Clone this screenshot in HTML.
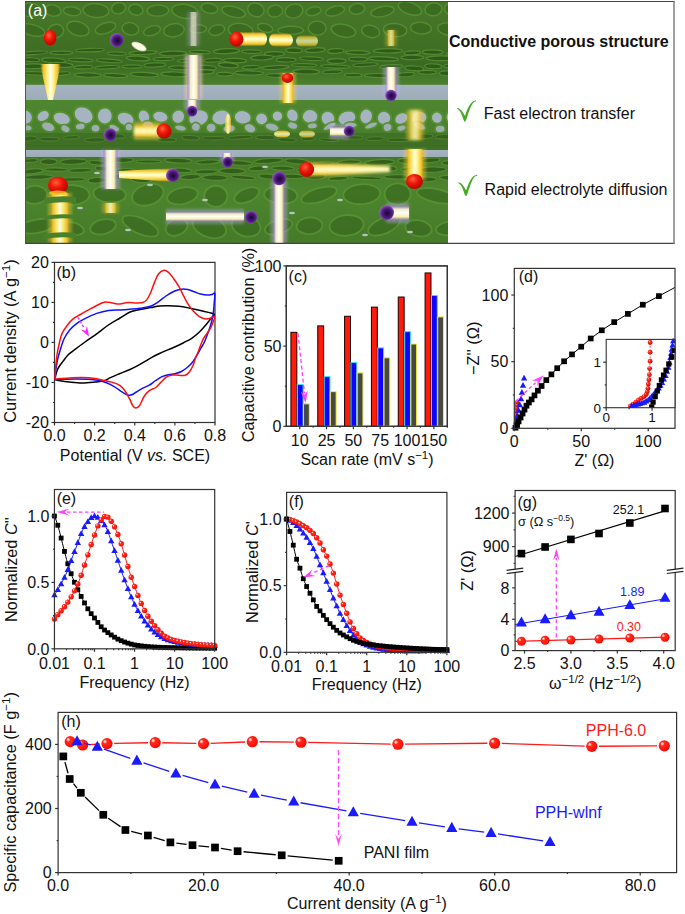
<!DOCTYPE html>
<html><head><meta charset="utf-8"><style>
html,body{margin:0;padding:0;background:#fff;}
body{width:685px;height:914px;overflow:hidden;}
svg{display:block;font-family:"Liberation Sans", sans-serif;}
</style></head><body>
<svg width="685" height="914" viewBox="0 0 685 914">
<defs>
<radialGradient id="rb" cx="0.4" cy="0.4" r="0.62" fx="0.3" fy="0.3">
<stop offset="0" stop-color="#fff4f4"/><stop offset="0.12" stop-color="#ffc8c4"/><stop offset="0.3" stop-color="#ff2a1e"/>
<stop offset="0.8" stop-color="#ff1408"/><stop offset="1" stop-color="#e80800"/></radialGradient>
<radialGradient id="rbs" cx="0.4" cy="0.35" r="0.65" fx="0.35" fy="0.3">
<stop offset="0" stop-color="#ffb0a8"/><stop offset="0.3" stop-color="#ff3020"/>
<stop offset="1" stop-color="#d80000"/></radialGradient>
</defs>
<defs>
<clipPath id="aclip"><rect x="25.5" y="1" width="422.5" height="242"/></clipPath>
<linearGradient id="gband" x1="0" y1="0" x2="0" y2="1">
<stop offset="0" stop-color="#a6b3c0"/><stop offset="0.5" stop-color="#a2b0bd"/><stop offset="1" stop-color="#9cabb8"/></linearGradient>
<linearGradient id="topg" x1="0" y1="0" x2="0" y2="1">
<stop offset="0" stop-color="#47782a"/><stop offset="0.55" stop-color="#3f6f24"/><stop offset="0.75" stop-color="#3a6a22"/><stop offset="1" stop-color="#4d822d"/></linearGradient>
<linearGradient id="midg" x1="0" y1="0" x2="0" y2="1">
<stop offset="0" stop-color="#4f8630"/><stop offset="0.6" stop-color="#4a7f2c"/><stop offset="1" stop-color="#3f7025"/></linearGradient>
<linearGradient id="botg" x1="0" y1="0" x2="0" y2="1">
<stop offset="0" stop-color="#447627"/><stop offset="0.4" stop-color="#4d852e"/><stop offset="1" stop-color="#457a28"/></linearGradient>
<linearGradient id="yv" x1="0" y1="0" x2="1" y2="0">
<stop offset="0" stop-color="#ff9000" stop-opacity="0"/><stop offset="0.15" stop-color="#ffc830" stop-opacity="0.9"/>
<stop offset="0.35" stop-color="#fff080"/><stop offset="0.5" stop-color="#ffffe8"/><stop offset="0.65" stop-color="#fff080"/>
<stop offset="0.85" stop-color="#ffc830" stop-opacity="0.9"/><stop offset="1" stop-color="#ff9000" stop-opacity="0"/></linearGradient>
<linearGradient id="yh" x1="0" y1="0" x2="0" y2="1">
<stop offset="0" stop-color="#ff9000" stop-opacity="0"/><stop offset="0.15" stop-color="#ffc830" stop-opacity="0.9"/>
<stop offset="0.35" stop-color="#fff080"/><stop offset="0.5" stop-color="#ffffe8"/><stop offset="0.65" stop-color="#fff080"/>
<stop offset="0.85" stop-color="#ffc830" stop-opacity="0.9"/><stop offset="1" stop-color="#ff9000" stop-opacity="0"/></linearGradient>
<linearGradient id="wv" x1="0" y1="0" x2="1" y2="0">
<stop offset="0" stop-color="#8060c0" stop-opacity="0.2"/><stop offset="0.25" stop-color="#f0e8d0"/>
<stop offset="0.5" stop-color="#fffff0"/><stop offset="0.75" stop-color="#f8ecb0"/><stop offset="1" stop-color="#8060c0" stop-opacity="0.2"/></linearGradient>
<linearGradient id="wh" x1="0" y1="0" x2="0" y2="1">
<stop offset="0" stop-color="#8060c0" stop-opacity="0.2"/><stop offset="0.25" stop-color="#f0e8d0"/>
<stop offset="0.5" stop-color="#fffff0"/><stop offset="0.75" stop-color="#f8ecb0"/><stop offset="1" stop-color="#8060c0" stop-opacity="0.2"/></linearGradient>
<radialGradient id="pur" cx="0.55" cy="0.55" r="0.55">
<stop offset="0" stop-color="#1a0638"/><stop offset="0.55" stop-color="#4a1878"/><stop offset="0.85" stop-color="#7a40b0"/><stop offset="1" stop-color="#9a70c8" stop-opacity="0.6"/></radialGradient>
<radialGradient id="red3" cx="0.4" cy="0.35" r="0.6">
<stop offset="0" stop-color="#ff6040"/><stop offset="0.5" stop-color="#f01808"/><stop offset="1" stop-color="#c00800"/></radialGradient>
<filter id="bl1" x="-50%" y="-50%" width="200%" height="200%"><feGaussianBlur stdDeviation="0.55"/></filter>
<filter id="bl2" x="-50%" y="-50%" width="200%" height="200%"><feGaussianBlur stdDeviation="1.6"/></filter>
</defs>
<g clip-path="url(#aclip)">
<rect x="25.5" y="1" width="422.5" height="85" fill="url(#topg)"/>
<rect x="25.5" y="84.8" width="422.5" height="15.4" fill="url(#gband)"/>
<rect x="25.5" y="100" width="422.5" height="50" fill="url(#midg)"/>
<rect x="25.5" y="150" width="422.5" height="7" fill="url(#gband)"/>
<rect x="25.5" y="157" width="422.5" height="87" fill="url(#botg)"/>
<ellipse cx="29.98" cy="9.86" rx="10.36" ry="6.77" fill="#3a6820" stroke="#5a9634" stroke-width="1.4" opacity="0.75" transform="rotate(0.31 29.98 9.86)"/>
<ellipse cx="52.79" cy="10.52" rx="8.11" ry="5.54" fill="#3a6820" stroke="#5a9634" stroke-width="1.4" opacity="0.75" transform="rotate(11.72 52.79 10.52)"/>
<ellipse cx="72.1" cy="11.24" rx="8.82" ry="4.27" fill="#3a6820" stroke="#5a9634" stroke-width="1.4" opacity="0.75" transform="rotate(7.74 72.1 11.24)"/>
<ellipse cx="95.98" cy="10.62" rx="12.89" ry="6.89" fill="#3a6820" stroke="#5a9634" stroke-width="1.4" opacity="0.75" transform="rotate(4.62 95.98 10.62)"/>
<ellipse cx="118.59" cy="8.24" rx="7.09" ry="5.59" fill="#3a6820" stroke="#5a9634" stroke-width="1.4" opacity="0.75" transform="rotate(-12.39 118.59 8.24)"/>
<ellipse cx="135.83" cy="9.76" rx="7.18" ry="5.39" fill="#3a6820" stroke="#5a9634" stroke-width="1.4" opacity="0.75" transform="rotate(13.7 135.83 9.76)"/>
<ellipse cx="157.93" cy="10.65" rx="10.84" ry="5.5" fill="#3a6820" stroke="#5a9634" stroke-width="1.4" opacity="0.75" transform="rotate(-1.71 157.93 10.65)"/>
<ellipse cx="184.87" cy="11.36" rx="12.99" ry="6.99" fill="#3a6820" stroke="#5a9634" stroke-width="1.4" opacity="0.75" transform="rotate(8.31 184.87 11.36)"/>
<ellipse cx="209.5" cy="8.28" rx="8.38" ry="4.87" fill="#3a6820" stroke="#5a9634" stroke-width="1.4" opacity="0.75" transform="rotate(10.65 209.5 8.28)"/>
<ellipse cx="233.55" cy="11.83" rx="12.08" ry="5.16" fill="#3a6820" stroke="#5a9634" stroke-width="1.4" opacity="0.75" transform="rotate(13.89 233.55 11.83)"/>
<ellipse cx="255.89" cy="9.88" rx="8.26" ry="6.73" fill="#3a6820" stroke="#5a9634" stroke-width="1.4" opacity="0.75" transform="rotate(19.21 255.89 9.88)"/>
<ellipse cx="275.18" cy="11.11" rx="7.44" ry="5.89" fill="#3a6820" stroke="#5a9634" stroke-width="1.4" opacity="0.75" transform="rotate(-9.21 275.18 11.11)"/>
<ellipse cx="293.96" cy="11.03" rx="9" ry="6.89" fill="#3a6820" stroke="#5a9634" stroke-width="1.4" opacity="0.75" transform="rotate(-15.28 293.96 11.03)"/>
<ellipse cx="313.55" cy="11.19" rx="7.61" ry="4.18" fill="#3a6820" stroke="#5a9634" stroke-width="1.4" opacity="0.75" transform="rotate(-12.89 313.55 11.19)"/>
<ellipse cx="335.08" cy="10.93" rx="9.68" ry="4.57" fill="#3a6820" stroke="#5a9634" stroke-width="1.4" opacity="0.75" transform="rotate(-14.76 335.08 10.93)"/>
<ellipse cx="357.04" cy="8.85" rx="7.7" ry="5.26" fill="#3a6820" stroke="#5a9634" stroke-width="1.4" opacity="0.75" transform="rotate(-9.21 357.04 8.85)"/>
<ellipse cx="382.44" cy="11.54" rx="11.82" ry="4.91" fill="#3a6820" stroke="#5a9634" stroke-width="1.4" opacity="0.75" transform="rotate(-11.57 382.44 11.54)"/>
<ellipse cx="409.96" cy="8.4" rx="12.13" ry="5.93" fill="#3a6820" stroke="#5a9634" stroke-width="1.4" opacity="0.75" transform="rotate(19.57 409.96 8.4)"/>
<ellipse cx="433.49" cy="9.32" rx="8.55" ry="6.32" fill="#3a6820" stroke="#5a9634" stroke-width="1.4" opacity="0.75" transform="rotate(-8.15 433.49 9.32)"/>
<ellipse cx="451.88" cy="8.97" rx="7.54" ry="5.75" fill="#3a6820" stroke="#5a9634" stroke-width="1.4" opacity="0.75" transform="rotate(4.05 451.88 8.97)"/>
<ellipse cx="32.38" cy="30.1" rx="12.75" ry="5.45" fill="#3a6820" stroke="#5a9634" stroke-width="1.4" opacity="0.75" transform="rotate(14.66 32.38 30.1)"/>
<ellipse cx="55.79" cy="31.07" rx="7.92" ry="6.73" fill="#3a6820" stroke="#5a9634" stroke-width="1.4" opacity="0.75" transform="rotate(-10.02 55.79 31.07)"/>
<ellipse cx="77.91" cy="28.59" rx="11.44" ry="6.82" fill="#3a6820" stroke="#5a9634" stroke-width="1.4" opacity="0.75" transform="rotate(18.01 77.91 28.59)"/>
<ellipse cx="105.5" cy="28.22" rx="10.62" ry="5.26" fill="#3a6820" stroke="#5a9634" stroke-width="1.4" opacity="0.75" transform="rotate(-18.45 105.5 28.22)"/>
<ellipse cx="130.4" cy="28.83" rx="8.43" ry="6.11" fill="#3a6820" stroke="#5a9634" stroke-width="1.4" opacity="0.75" transform="rotate(12.95 130.4 28.83)"/>
<ellipse cx="151.98" cy="30.68" rx="8.76" ry="4.53" fill="#3a6820" stroke="#5a9634" stroke-width="1.4" opacity="0.75" transform="rotate(-17.25 151.98 30.68)"/>
<ellipse cx="174.01" cy="30.26" rx="10.36" ry="6.56" fill="#3a6820" stroke="#5a9634" stroke-width="1.4" opacity="0.75" transform="rotate(-8.79 174.01 30.26)"/>
<ellipse cx="198.26" cy="28.88" rx="8.22" ry="4.05" fill="#3a6820" stroke="#5a9634" stroke-width="1.4" opacity="0.75" transform="rotate(-2.17 198.26 28.88)"/>
<ellipse cx="216.78" cy="30.09" rx="8.06" ry="5.11" fill="#3a6820" stroke="#5a9634" stroke-width="1.4" opacity="0.75" transform="rotate(-14.74 216.78 30.09)"/>
<ellipse cx="240.63" cy="30.43" rx="12.35" ry="6.94" fill="#3a6820" stroke="#5a9634" stroke-width="1.4" opacity="0.75" transform="rotate(7.65 240.63 30.43)"/>
<ellipse cx="265.16" cy="27.87" rx="7.84" ry="4.11" fill="#3a6820" stroke="#5a9634" stroke-width="1.4" opacity="0.75" transform="rotate(16.41 265.16 27.87)"/>
<ellipse cx="290.58" cy="30.34" rx="12.78" ry="4.06" fill="#3a6820" stroke="#5a9634" stroke-width="1.4" opacity="0.75" transform="rotate(-0.71 290.58 30.34)"/>
<ellipse cx="317.19" cy="28.1" rx="8.91" ry="7" fill="#3a6820" stroke="#5a9634" stroke-width="1.4" opacity="0.75" transform="rotate(1.84 317.19 28.1)"/>
<ellipse cx="343.46" cy="30.61" rx="12.4" ry="6.21" fill="#3a6820" stroke="#5a9634" stroke-width="1.4" opacity="0.75" transform="rotate(11.73 343.46 30.61)"/>
<ellipse cx="370.63" cy="31.4" rx="9.11" ry="6.06" fill="#3a6820" stroke="#5a9634" stroke-width="1.4" opacity="0.75" transform="rotate(14.84 370.63 31.4)"/>
<ellipse cx="395.15" cy="30.09" rx="11.74" ry="6.59" fill="#3a6820" stroke="#5a9634" stroke-width="1.4" opacity="0.75" transform="rotate(5 395.15 30.09)"/>
<ellipse cx="420.92" cy="28.12" rx="10.5" ry="5.83" fill="#3a6820" stroke="#5a9634" stroke-width="1.4" opacity="0.75" transform="rotate(5.58 420.92 28.12)"/>
<ellipse cx="449.67" cy="29.35" rx="12.28" ry="6.18" fill="#3a6820" stroke="#5a9634" stroke-width="1.4" opacity="0.75" transform="rotate(9.4 449.67 29.35)"/>
<ellipse cx="33.39" cy="53" rx="13.87" ry="1.58" fill="#2f5718" stroke="#568f33" stroke-width="1.2" opacity="0.85" transform="rotate(-3.76 33.39 53)"/>
<ellipse cx="61.43" cy="52.79" rx="11.37" ry="1.73" fill="#2f5718" stroke="#568f33" stroke-width="1.2" opacity="0.85" transform="rotate(-0.02 61.43 52.79)"/>
<ellipse cx="90.09" cy="50.05" rx="14.44" ry="1.76" fill="#2f5718" stroke="#568f33" stroke-width="1.2" opacity="0.85" transform="rotate(-1.59 90.09 50.05)"/>
<ellipse cx="116.98" cy="53.62" rx="9.42" ry="1.67" fill="#2f5718" stroke="#568f33" stroke-width="1.2" opacity="0.85" transform="rotate(1.28 116.98 53.62)"/>
<ellipse cx="142.97" cy="52.66" rx="14.24" ry="1.83" fill="#2f5718" stroke="#568f33" stroke-width="1.2" opacity="0.85" transform="rotate(-2.41 142.97 52.66)"/>
<ellipse cx="173.14" cy="53.52" rx="13.64" ry="2.41" fill="#2f5718" stroke="#568f33" stroke-width="1.2" opacity="0.85" transform="rotate(-0.92 173.14 53.52)"/>
<ellipse cx="199.75" cy="51.99" rx="10.22" ry="1.64" fill="#2f5718" stroke="#568f33" stroke-width="1.2" opacity="0.85" transform="rotate(2.7 199.75 51.99)"/>
<ellipse cx="226.49" cy="51.11" rx="12.98" ry="2.45" fill="#2f5718" stroke="#568f33" stroke-width="1.2" opacity="0.85" transform="rotate(-2.65 226.49 51.11)"/>
<ellipse cx="251.75" cy="51.66" rx="9.93" ry="1.71" fill="#2f5718" stroke="#568f33" stroke-width="1.2" opacity="0.85" transform="rotate(1.01 251.75 51.66)"/>
<ellipse cx="274.36" cy="53.93" rx="10.21" ry="2.34" fill="#2f5718" stroke="#568f33" stroke-width="1.2" opacity="0.85" transform="rotate(-0.38 274.36 53.93)"/>
<ellipse cx="294.01" cy="50.17" rx="8.22" ry="2.37" fill="#2f5718" stroke="#568f33" stroke-width="1.2" opacity="0.85" transform="rotate(1.67 294.01 50.17)"/>
<ellipse cx="315.11" cy="50.08" rx="10.16" ry="2.29" fill="#2f5718" stroke="#568f33" stroke-width="1.2" opacity="0.85" transform="rotate(-2.91 315.11 50.08)"/>
<ellipse cx="335.81" cy="50.95" rx="8.17" ry="2.33" fill="#2f5718" stroke="#568f33" stroke-width="1.2" opacity="0.85" transform="rotate(-2.87 335.81 50.95)"/>
<ellipse cx="357.53" cy="52.52" rx="12.4" ry="1.95" fill="#2f5718" stroke="#568f33" stroke-width="1.2" opacity="0.85" transform="rotate(1.24 357.53 52.52)"/>
<ellipse cx="388.06" cy="50.8" rx="14.71" ry="2.18" fill="#2f5718" stroke="#568f33" stroke-width="1.2" opacity="0.85" transform="rotate(-0.2 388.06 50.8)"/>
<ellipse cx="412.39" cy="52.86" rx="8.08" ry="1.97" fill="#2f5718" stroke="#568f33" stroke-width="1.2" opacity="0.85" transform="rotate(-2.57 412.39 52.86)"/>
<ellipse cx="432.7" cy="52.08" rx="10.42" ry="2.2" fill="#2f5718" stroke="#568f33" stroke-width="1.2" opacity="0.85" transform="rotate(0.92 432.7 52.08)"/>
<ellipse cx="457.14" cy="53.62" rx="10.75" ry="2.29" fill="#2f5718" stroke="#568f33" stroke-width="1.2" opacity="0.85" transform="rotate(-3.3 457.14 53.62)"/>
<ellipse cx="30.69" cy="59.7" rx="8.91" ry="1.95" fill="#2f5718" stroke="#568f33" stroke-width="1.2" opacity="0.85" transform="rotate(3.28 30.69 59.7)"/>
<ellipse cx="53.71" cy="60.39" rx="11.98" ry="2.38" fill="#2f5718" stroke="#568f33" stroke-width="1.2" opacity="0.85" transform="rotate(3.55 53.71 60.39)"/>
<ellipse cx="80.64" cy="60.09" rx="12.56" ry="1.7" fill="#2f5718" stroke="#568f33" stroke-width="1.2" opacity="0.85" transform="rotate(2.55 80.64 60.09)"/>
<ellipse cx="109.15" cy="60.8" rx="13.02" ry="1.71" fill="#2f5718" stroke="#568f33" stroke-width="1.2" opacity="0.85" transform="rotate(3.84 109.15 60.8)"/>
<ellipse cx="137.86" cy="58.48" rx="11.76" ry="2.29" fill="#2f5718" stroke="#568f33" stroke-width="1.2" opacity="0.85" transform="rotate(3.28 137.86 58.48)"/>
<ellipse cx="163.63" cy="58.96" rx="10.44" ry="1.58" fill="#2f5718" stroke="#568f33" stroke-width="1.2" opacity="0.85" transform="rotate(0.4 163.63 58.96)"/>
<ellipse cx="188.79" cy="60.44" rx="11.41" ry="1.53" fill="#2f5718" stroke="#568f33" stroke-width="1.2" opacity="0.85" transform="rotate(-3.49 188.79 60.44)"/>
<ellipse cx="212.81" cy="60.35" rx="9.21" ry="1.84" fill="#2f5718" stroke="#568f33" stroke-width="1.2" opacity="0.85" transform="rotate(-2.88 212.81 60.35)"/>
<ellipse cx="235.08" cy="60.56" rx="11.62" ry="2.22" fill="#2f5718" stroke="#568f33" stroke-width="1.2" opacity="0.85" transform="rotate(1.51 235.08 60.56)"/>
<ellipse cx="261.98" cy="57.54" rx="11.45" ry="2.45" fill="#2f5718" stroke="#568f33" stroke-width="1.2" opacity="0.85" transform="rotate(-2.23 261.98 57.54)"/>
<ellipse cx="286.04" cy="59.76" rx="10.03" ry="2.23" fill="#2f5718" stroke="#568f33" stroke-width="1.2" opacity="0.85" transform="rotate(0.18 286.04 59.76)"/>
<ellipse cx="311.52" cy="58.72" rx="11.92" ry="1.81" fill="#2f5718" stroke="#568f33" stroke-width="1.2" opacity="0.85" transform="rotate(2.76 311.52 58.72)"/>
<ellipse cx="336.6" cy="61.07" rx="9.46" ry="2.35" fill="#2f5718" stroke="#568f33" stroke-width="1.2" opacity="0.85" transform="rotate(0.19 336.6 61.07)"/>
<ellipse cx="358.18" cy="59.21" rx="9.41" ry="2.04" fill="#2f5718" stroke="#568f33" stroke-width="1.2" opacity="0.85" transform="rotate(0.84 358.18 59.21)"/>
<ellipse cx="383.46" cy="58.8" rx="14.79" ry="2.02" fill="#2f5718" stroke="#568f33" stroke-width="1.2" opacity="0.85" transform="rotate(2.41 383.46 58.8)"/>
<ellipse cx="412.37" cy="57.46" rx="11.44" ry="2.19" fill="#2f5718" stroke="#568f33" stroke-width="1.2" opacity="0.85" transform="rotate(0.31 412.37 57.46)"/>
<ellipse cx="440.75" cy="58.28" rx="14.7" ry="2.42" fill="#2f5718" stroke="#568f33" stroke-width="1.2" opacity="0.85" transform="rotate(-0.21 440.75 58.28)"/>
<ellipse cx="33.18" cy="66.31" rx="13.71" ry="2.4" fill="#2f5718" stroke="#568f33" stroke-width="1.2" opacity="0.85" transform="rotate(-1.46 33.18 66.31)"/>
<ellipse cx="60.79" cy="64.92" rx="12.33" ry="2.43" fill="#2f5718" stroke="#568f33" stroke-width="1.2" opacity="0.85" transform="rotate(2.23 60.79 64.92)"/>
<ellipse cx="83.54" cy="67.15" rx="9.36" ry="1.73" fill="#2f5718" stroke="#568f33" stroke-width="1.2" opacity="0.85" transform="rotate(-1.42 83.54 67.15)"/>
<ellipse cx="107.3" cy="67.32" rx="12.34" ry="1.6" fill="#2f5718" stroke="#568f33" stroke-width="1.2" opacity="0.85" transform="rotate(-3.02 107.3 67.32)"/>
<ellipse cx="131.93" cy="66.52" rx="9.75" ry="1.7" fill="#2f5718" stroke="#568f33" stroke-width="1.2" opacity="0.85" transform="rotate(-0.51 131.93 66.52)"/>
<ellipse cx="154.7" cy="65.04" rx="10.89" ry="2.03" fill="#2f5718" stroke="#568f33" stroke-width="1.2" opacity="0.85" transform="rotate(-2.37 154.7 65.04)"/>
<ellipse cx="180.96" cy="67.81" rx="12.47" ry="2.03" fill="#2f5718" stroke="#568f33" stroke-width="1.2" opacity="0.85" transform="rotate(0.89 180.96 67.81)"/>
<ellipse cx="206.63" cy="67.64" rx="9.63" ry="2.24" fill="#2f5718" stroke="#568f33" stroke-width="1.2" opacity="0.85" transform="rotate(3.22 206.63 67.64)"/>
<ellipse cx="228.41" cy="65.27" rx="10.2" ry="2.42" fill="#2f5718" stroke="#568f33" stroke-width="1.2" opacity="0.85" transform="rotate(3.99 228.41 65.27)"/>
<ellipse cx="251.21" cy="67.31" rx="8.94" ry="1.74" fill="#2f5718" stroke="#568f33" stroke-width="1.2" opacity="0.85" transform="rotate(-1.92 251.21 67.31)"/>
<ellipse cx="275.27" cy="67.56" rx="13.83" ry="1.92" fill="#2f5718" stroke="#568f33" stroke-width="1.2" opacity="0.85" transform="rotate(-2.99 275.27 67.56)"/>
<ellipse cx="304.1" cy="65.2" rx="12.8" ry="1.52" fill="#2f5718" stroke="#568f33" stroke-width="1.2" opacity="0.85" transform="rotate(1.46 304.1 65.2)"/>
<ellipse cx="335.41" cy="66.42" rx="14.78" ry="1.62" fill="#2f5718" stroke="#568f33" stroke-width="1.2" opacity="0.85" transform="rotate(2.07 335.41 66.42)"/>
<ellipse cx="365.49" cy="64.68" rx="12.8" ry="1.69" fill="#2f5718" stroke="#568f33" stroke-width="1.2" opacity="0.85" transform="rotate(-3.15 365.49 64.68)"/>
<ellipse cx="391.27" cy="66.67" rx="11.86" ry="2.01" fill="#2f5718" stroke="#568f33" stroke-width="1.2" opacity="0.85" transform="rotate(-2.83 391.27 66.67)"/>
<ellipse cx="414.11" cy="68.36" rx="9.43" ry="2.34" fill="#2f5718" stroke="#568f33" stroke-width="1.2" opacity="0.85" transform="rotate(3.42 414.11 68.36)"/>
<ellipse cx="433.26" cy="66.25" rx="8.43" ry="2.45" fill="#2f5718" stroke="#568f33" stroke-width="1.2" opacity="0.85" transform="rotate(2.12 433.26 66.25)"/>
<ellipse cx="454.94" cy="66.12" rx="11.27" ry="2.02" fill="#2f5718" stroke="#568f33" stroke-width="1.2" opacity="0.85" transform="rotate(0.81 454.94 66.12)"/>
<ellipse cx="35.52" cy="73.42" rx="13.91" ry="1.68" fill="#2f5718" stroke="#568f33" stroke-width="1.2" opacity="0.85" transform="rotate(1.91 35.52 73.42)"/>
<ellipse cx="61.01" cy="73.65" rx="9.37" ry="1.67" fill="#2f5718" stroke="#568f33" stroke-width="1.2" opacity="0.85" transform="rotate(-3.88 61.01 73.65)"/>
<ellipse cx="87.67" cy="75.04" rx="13.61" ry="2.2" fill="#2f5718" stroke="#568f33" stroke-width="1.2" opacity="0.85" transform="rotate(1.04 87.67 75.04)"/>
<ellipse cx="115.69" cy="75.53" rx="12.2" ry="2" fill="#2f5718" stroke="#568f33" stroke-width="1.2" opacity="0.85" transform="rotate(2.44 115.69 75.53)"/>
<ellipse cx="144.04" cy="74.71" rx="14.38" ry="2.24" fill="#2f5718" stroke="#568f33" stroke-width="1.2" opacity="0.85" transform="rotate(2.52 144.04 74.71)"/>
<ellipse cx="174.91" cy="74.38" rx="14.28" ry="2.38" fill="#2f5718" stroke="#568f33" stroke-width="1.2" opacity="0.85" transform="rotate(2.14 174.91 74.38)"/>
<ellipse cx="203.32" cy="71.88" rx="10.84" ry="2.22" fill="#2f5718" stroke="#568f33" stroke-width="1.2" opacity="0.85" transform="rotate(-1.27 203.32 71.88)"/>
<ellipse cx="224.65" cy="74.15" rx="8.07" ry="1.86" fill="#2f5718" stroke="#568f33" stroke-width="1.2" opacity="0.85" transform="rotate(0.99 224.65 74.15)"/>
<ellipse cx="249.03" cy="72.95" rx="14.61" ry="2.17" fill="#2f5718" stroke="#568f33" stroke-width="1.2" opacity="0.85" transform="rotate(1.28 249.03 72.95)"/>
<ellipse cx="278.08" cy="75.6" rx="11.73" ry="1.89" fill="#2f5718" stroke="#568f33" stroke-width="1.2" opacity="0.85" transform="rotate(1.14 278.08 75.6)"/>
<ellipse cx="306.25" cy="71.69" rx="13.33" ry="2.48" fill="#2f5718" stroke="#568f33" stroke-width="1.2" opacity="0.85" transform="rotate(0.92 306.25 71.69)"/>
<ellipse cx="332.59" cy="71.8" rx="9.8" ry="1.9" fill="#2f5718" stroke="#568f33" stroke-width="1.2" opacity="0.85" transform="rotate(-2.44 332.59 71.8)"/>
<ellipse cx="353.21" cy="75.22" rx="8.69" ry="1.75" fill="#2f5718" stroke="#568f33" stroke-width="1.2" opacity="0.85" transform="rotate(0.4 353.21 75.22)"/>
<ellipse cx="379.19" cy="75.58" rx="14.77" ry="2.07" fill="#2f5718" stroke="#568f33" stroke-width="1.2" opacity="0.85" transform="rotate(1.1 379.19 75.58)"/>
<ellipse cx="405.92" cy="74.64" rx="8.53" ry="2.1" fill="#2f5718" stroke="#568f33" stroke-width="1.2" opacity="0.85" transform="rotate(-3.64 405.92 74.64)"/>
<ellipse cx="427.36" cy="72.28" rx="9.12" ry="1.97" fill="#2f5718" stroke="#568f33" stroke-width="1.2" opacity="0.85" transform="rotate(-0.04 427.36 72.28)"/>
<ellipse cx="447.73" cy="73.28" rx="8.41" ry="2.45" fill="#2f5718" stroke="#568f33" stroke-width="1.2" opacity="0.85" transform="rotate(0.21 447.73 73.28)"/>
<ellipse cx="25.85" cy="117.24" rx="6.93" ry="7.47" fill="#a6b3c0" stroke="#54902f" stroke-width="2" opacity="1" transform="rotate(-15.15 25.85 117.24)"/>
<ellipse cx="43.2" cy="115.98" rx="6.98" ry="5.54" fill="#a6b3c0" stroke="#54902f" stroke-width="2" opacity="1" transform="rotate(-32.01 43.2 115.98)"/>
<ellipse cx="61.76" cy="118.59" rx="9.27" ry="6.67" fill="#a6b3c0" stroke="#54902f" stroke-width="2" opacity="1" transform="rotate(17.39 61.76 118.59)"/>
<ellipse cx="83.58" cy="115.29" rx="10.44" ry="8.33" fill="#a6b3c0" stroke="#54902f" stroke-width="2" opacity="1" transform="rotate(28.39 83.58 115.29)"/>
<ellipse cx="104.77" cy="115.97" rx="7.89" ry="8.42" fill="#a6b3c0" stroke="#54902f" stroke-width="2" opacity="1" transform="rotate(1.64 104.77 115.97)"/>
<ellipse cx="125.65" cy="118.92" rx="9.11" ry="6.91" fill="#a6b3c0" stroke="#54902f" stroke-width="2" opacity="1" transform="rotate(22.17 125.65 118.92)"/>
<ellipse cx="144.04" cy="116.82" rx="6.08" ry="7.37" fill="#a6b3c0" stroke="#54902f" stroke-width="2" opacity="1" transform="rotate(-20.74 144.04 116.82)"/>
<ellipse cx="160.36" cy="116.77" rx="8.14" ry="5.87" fill="#a6b3c0" stroke="#54902f" stroke-width="2" opacity="1" transform="rotate(11.75 160.36 116.77)"/>
<ellipse cx="178.23" cy="116.68" rx="6.81" ry="7.25" fill="#a6b3c0" stroke="#54902f" stroke-width="2" opacity="1" transform="rotate(19.46 178.23 116.68)"/>
<ellipse cx="198.59" cy="117.94" rx="10.49" ry="8.36" fill="#a6b3c0" stroke="#54902f" stroke-width="2" opacity="1" transform="rotate(-18.31 198.59 117.94)"/>
<ellipse cx="221.27" cy="117.5" rx="9.96" ry="7.85" fill="#a6b3c0" stroke="#54902f" stroke-width="2" opacity="1" transform="rotate(-9.86 221.27 117.5)"/>
<ellipse cx="242.7" cy="117.37" rx="8.93" ry="7.19" fill="#a6b3c0" stroke="#54902f" stroke-width="2" opacity="1" transform="rotate(9.32 242.7 117.37)"/>
<ellipse cx="261.58" cy="118.92" rx="6.45" ry="6.25" fill="#a6b3c0" stroke="#54902f" stroke-width="2" opacity="1" transform="rotate(29.1 261.58 118.92)"/>
<ellipse cx="277.48" cy="116.08" rx="5.7" ry="5.68" fill="#a6b3c0" stroke="#54902f" stroke-width="2" opacity="1" transform="rotate(-5.24 277.48 116.08)"/>
<ellipse cx="292.44" cy="115.29" rx="6.01" ry="7.12" fill="#a6b3c0" stroke="#54902f" stroke-width="2" opacity="1" transform="rotate(-28.95 292.44 115.29)"/>
<ellipse cx="310.06" cy="116.49" rx="8.25" ry="7.39" fill="#a6b3c0" stroke="#54902f" stroke-width="2" opacity="1" transform="rotate(-1.5 310.06 116.49)"/>
<ellipse cx="327.95" cy="118.35" rx="7.22" ry="7.73" fill="#a6b3c0" stroke="#54902f" stroke-width="2" opacity="1" transform="rotate(-29.8 327.95 118.35)"/>
<ellipse cx="346.95" cy="118.08" rx="9.55" ry="7.37" fill="#a6b3c0" stroke="#54902f" stroke-width="2" opacity="1" transform="rotate(-20.08 346.95 118.08)"/>
<ellipse cx="366.14" cy="116.48" rx="6.79" ry="7.93" fill="#a6b3c0" stroke="#54902f" stroke-width="2" opacity="1" transform="rotate(10.76 366.14 116.48)"/>
<ellipse cx="384.03" cy="117.98" rx="7.13" ry="7.15" fill="#a6b3c0" stroke="#54902f" stroke-width="2" opacity="1" transform="rotate(29.46 384.03 117.98)"/>
<ellipse cx="401.36" cy="118.5" rx="7.35" ry="5.79" fill="#a6b3c0" stroke="#54902f" stroke-width="2" opacity="1" transform="rotate(-29.5 401.36 118.5)"/>
<ellipse cx="419.2" cy="117.74" rx="8.32" ry="6.95" fill="#a6b3c0" stroke="#54902f" stroke-width="2" opacity="1" transform="rotate(-14.08 419.2 117.74)"/>
<ellipse cx="436.95" cy="117.65" rx="5.88" ry="6.14" fill="#a6b3c0" stroke="#54902f" stroke-width="2" opacity="1" transform="rotate(-29.28 436.95 117.65)"/>
<ellipse cx="454.56" cy="116.13" rx="9.12" ry="7.58" fill="#a6b3c0" stroke="#54902f" stroke-width="2" opacity="1" transform="rotate(-25 454.56 116.13)"/>
<ellipse cx="27.09" cy="127.84" rx="5.28" ry="3.23" fill="#a6b3c0" stroke="#54902f" stroke-width="1.8" opacity="0.9" transform="rotate(4.85 27.09 127.84)"/>
<ellipse cx="48.17" cy="126.75" rx="7.29" ry="4.83" fill="#a6b3c0" stroke="#54902f" stroke-width="1.8" opacity="0.9" transform="rotate(21.21 48.17 126.75)"/>
<ellipse cx="65.4" cy="128.74" rx="5.11" ry="3.8" fill="#a6b3c0" stroke="#54902f" stroke-width="1.8" opacity="0.9" transform="rotate(27.63 65.4 128.74)"/>
<ellipse cx="80.27" cy="126.45" rx="5.27" ry="3.73" fill="#a6b3c0" stroke="#54902f" stroke-width="1.8" opacity="0.9" transform="rotate(-7.31 80.27 126.45)"/>
<ellipse cx="95.54" cy="128.19" rx="4.68" ry="4.13" fill="#a6b3c0" stroke="#54902f" stroke-width="1.8" opacity="0.9" transform="rotate(2.84 95.54 128.19)"/>
<ellipse cx="114.22" cy="128.04" rx="5.97" ry="3.35" fill="#a6b3c0" stroke="#54902f" stroke-width="1.8" opacity="0.9" transform="rotate(26.66 114.22 128.04)"/>
<ellipse cx="128.95" cy="127.18" rx="4.08" ry="4.03" fill="#a6b3c0" stroke="#54902f" stroke-width="1.8" opacity="0.9" transform="rotate(4.72 128.95 127.18)"/>
<ellipse cx="148.11" cy="125.26" rx="6.28" ry="4.61" fill="#a6b3c0" stroke="#54902f" stroke-width="1.8" opacity="0.9" transform="rotate(3.28 148.11 125.26)"/>
<ellipse cx="166.41" cy="127.95" rx="4.29" ry="3.16" fill="#a6b3c0" stroke="#54902f" stroke-width="1.8" opacity="0.9" transform="rotate(27.94 166.41 127.95)"/>
<ellipse cx="180.43" cy="127.98" rx="6.22" ry="3.29" fill="#a6b3c0" stroke="#54902f" stroke-width="1.8" opacity="0.9" transform="rotate(10.43 180.43 127.98)"/>
<ellipse cx="195.89" cy="127.09" rx="4.77" ry="4.53" fill="#a6b3c0" stroke="#54902f" stroke-width="1.8" opacity="0.9" transform="rotate(18.53 195.89 127.09)"/>
<ellipse cx="211.21" cy="127.69" rx="5.18" ry="4.94" fill="#a6b3c0" stroke="#54902f" stroke-width="1.8" opacity="0.9" transform="rotate(-0.44 211.21 127.69)"/>
<ellipse cx="229.14" cy="128.66" rx="6.52" ry="4.42" fill="#a6b3c0" stroke="#54902f" stroke-width="1.8" opacity="0.9" transform="rotate(-6.26 229.14 128.66)"/>
<ellipse cx="249.96" cy="128.22" rx="6.33" ry="4.71" fill="#a6b3c0" stroke="#54902f" stroke-width="1.8" opacity="0.9" transform="rotate(23.37 249.96 128.22)"/>
<ellipse cx="271.98" cy="127.1" rx="7.35" ry="4.28" fill="#a6b3c0" stroke="#54902f" stroke-width="1.8" opacity="0.9" transform="rotate(14.71 271.98 127.1)"/>
<ellipse cx="292.62" cy="125.58" rx="5.48" ry="3.84" fill="#a6b3c0" stroke="#54902f" stroke-width="1.8" opacity="0.9" transform="rotate(16.89 292.62 125.58)"/>
<ellipse cx="312.35" cy="125.82" rx="5.31" ry="3.34" fill="#a6b3c0" stroke="#54902f" stroke-width="1.8" opacity="0.9" transform="rotate(-5.25 312.35 125.82)"/>
<ellipse cx="329.81" cy="126.23" rx="7.39" ry="3.12" fill="#a6b3c0" stroke="#54902f" stroke-width="1.8" opacity="0.9" transform="rotate(-26.96 329.81 126.23)"/>
<ellipse cx="350.81" cy="125.25" rx="6.72" ry="3.36" fill="#a6b3c0" stroke="#54902f" stroke-width="1.8" opacity="0.9" transform="rotate(-2.89 350.81 125.25)"/>
<ellipse cx="371.21" cy="125.43" rx="7.18" ry="3.07" fill="#a6b3c0" stroke="#54902f" stroke-width="1.8" opacity="0.9" transform="rotate(-22.08 371.21 125.43)"/>
<ellipse cx="387.53" cy="127.38" rx="4.82" ry="4.43" fill="#a6b3c0" stroke="#54902f" stroke-width="1.8" opacity="0.9" transform="rotate(-19.32 387.53 127.38)"/>
<ellipse cx="401.44" cy="128.03" rx="4.98" ry="3.35" fill="#a6b3c0" stroke="#54902f" stroke-width="1.8" opacity="0.9" transform="rotate(-13.18 401.44 128.03)"/>
<ellipse cx="419.58" cy="126.04" rx="6.86" ry="3.96" fill="#a6b3c0" stroke="#54902f" stroke-width="1.8" opacity="0.9" transform="rotate(27.12 419.58 126.04)"/>
<ellipse cx="440.12" cy="128.83" rx="5.2" ry="4.09" fill="#a6b3c0" stroke="#54902f" stroke-width="1.8" opacity="0.9" transform="rotate(-1.22 440.12 128.83)"/>
<ellipse cx="453.82" cy="128.21" rx="4.17" ry="4.9" fill="#a6b3c0" stroke="#54902f" stroke-width="1.8" opacity="0.9" transform="rotate(-8.05 453.82 128.21)"/>
<rect x="25.5" y="133" width="422.5" height="14" fill="#3b6a22" opacity="0.55"/>
<ellipse cx="28.77" cy="138.63" rx="8.65" ry="2.49" fill="#2f5718" stroke="#568f33" stroke-width="1" opacity="0.6" transform="rotate(-2.1 28.77 138.63)"/>
<ellipse cx="49.3" cy="139.19" rx="9.84" ry="1.87" fill="#2f5718" stroke="#568f33" stroke-width="1" opacity="0.6" transform="rotate(1.71 49.3 139.19)"/>
<ellipse cx="71.5" cy="137.29" rx="7.94" ry="1.66" fill="#2f5718" stroke="#568f33" stroke-width="1" opacity="0.6" transform="rotate(-1.92 71.5 137.29)"/>
<ellipse cx="95.02" cy="139.97" rx="10.1" ry="2.14" fill="#2f5718" stroke="#568f33" stroke-width="1" opacity="0.6" transform="rotate(-1.87 95.02 139.97)"/>
<ellipse cx="117.16" cy="136.01" rx="7.9" ry="2.27" fill="#2f5718" stroke="#568f33" stroke-width="1" opacity="0.6" transform="rotate(2.57 117.16 136.01)"/>
<ellipse cx="142.38" cy="137.08" rx="11.93" ry="1.58" fill="#2f5718" stroke="#568f33" stroke-width="1" opacity="0.6" transform="rotate(1.73 142.38 137.08)"/>
<ellipse cx="166.58" cy="139.82" rx="9.88" ry="1.97" fill="#2f5718" stroke="#568f33" stroke-width="1" opacity="0.6" transform="rotate(0.69 166.58 139.82)"/>
<ellipse cx="190.72" cy="137.67" rx="8.82" ry="2.29" fill="#2f5718" stroke="#568f33" stroke-width="1" opacity="0.6" transform="rotate(3.33 190.72 137.67)"/>
<ellipse cx="213.86" cy="138.17" rx="11.96" ry="1.71" fill="#2f5718" stroke="#568f33" stroke-width="1" opacity="0.6" transform="rotate(0.21 213.86 138.17)"/>
<ellipse cx="240.44" cy="137.24" rx="11.99" ry="1.81" fill="#2f5718" stroke="#568f33" stroke-width="1" opacity="0.6" transform="rotate(-3.39 240.44 137.24)"/>
<ellipse cx="265.46" cy="137.44" rx="9.8" ry="2.22" fill="#2f5718" stroke="#568f33" stroke-width="1" opacity="0.6" transform="rotate(1.5 265.46 137.44)"/>
<ellipse cx="287.05" cy="139.87" rx="9.37" ry="1.96" fill="#2f5718" stroke="#568f33" stroke-width="1" opacity="0.6" transform="rotate(2.64 287.05 139.87)"/>
<ellipse cx="308.1" cy="138.84" rx="7.07" ry="1.88" fill="#2f5718" stroke="#568f33" stroke-width="1" opacity="0.6" transform="rotate(-2.1 308.1 138.84)"/>
<ellipse cx="329.18" cy="139.97" rx="9.75" ry="1.51" fill="#2f5718" stroke="#568f33" stroke-width="1" opacity="0.6" transform="rotate(2.4 329.18 139.97)"/>
<ellipse cx="352.46" cy="137.5" rx="10.7" ry="1.79" fill="#2f5718" stroke="#568f33" stroke-width="1" opacity="0.6" transform="rotate(0.32 352.46 137.5)"/>
<ellipse cx="375.37" cy="138.67" rx="9.02" ry="1.89" fill="#2f5718" stroke="#568f33" stroke-width="1" opacity="0.6" transform="rotate(-1.95 375.37 138.67)"/>
<ellipse cx="398.58" cy="139.78" rx="11.39" ry="1.83" fill="#2f5718" stroke="#568f33" stroke-width="1" opacity="0.6" transform="rotate(0.5 398.58 139.78)"/>
<ellipse cx="423.86" cy="136.37" rx="8.99" ry="2.33" fill="#2f5718" stroke="#568f33" stroke-width="1" opacity="0.6" transform="rotate(-2.87 423.86 136.37)"/>
<ellipse cx="446.29" cy="136.72" rx="11.07" ry="2.21" fill="#2f5718" stroke="#568f33" stroke-width="1" opacity="0.6" transform="rotate(-0.78 446.29 136.72)"/>
<ellipse cx="29.37" cy="160.63" rx="8.63" ry="1.84" fill="#2f5718" stroke="#568f33" stroke-width="1.2" opacity="0.8" transform="rotate(-3.76 29.37 160.63)"/>
<ellipse cx="48.73" cy="161.71" rx="8.51" ry="2.88" fill="#2f5718" stroke="#568f33" stroke-width="1.2" opacity="0.8" transform="rotate(0.12 48.73 161.71)"/>
<ellipse cx="73.55" cy="161.54" rx="13.37" ry="2.73" fill="#2f5718" stroke="#568f33" stroke-width="1.2" opacity="0.8" transform="rotate(-1.69 73.55 161.54)"/>
<ellipse cx="97.26" cy="162.8" rx="8.11" ry="2.1" fill="#2f5718" stroke="#568f33" stroke-width="1.2" opacity="0.8" transform="rotate(4.82 97.26 162.8)"/>
<ellipse cx="121.36" cy="160.07" rx="12.62" ry="2.41" fill="#2f5718" stroke="#568f33" stroke-width="1.2" opacity="0.8" transform="rotate(-1.69 121.36 160.07)"/>
<ellipse cx="148.57" cy="161.51" rx="12.56" ry="1.66" fill="#2f5718" stroke="#568f33" stroke-width="1.2" opacity="0.8" transform="rotate(0.09 148.57 161.51)"/>
<ellipse cx="178.26" cy="160.63" rx="13.78" ry="2.42" fill="#2f5718" stroke="#568f33" stroke-width="1.2" opacity="0.8" transform="rotate(2.67 178.26 160.63)"/>
<ellipse cx="207.59" cy="162" rx="11.84" ry="2.03" fill="#2f5718" stroke="#568f33" stroke-width="1.2" opacity="0.8" transform="rotate(-3.58 207.59 162)"/>
<ellipse cx="237.47" cy="162.86" rx="14.91" ry="2.27" fill="#2f5718" stroke="#568f33" stroke-width="1.2" opacity="0.8" transform="rotate(3.36 237.47 162.86)"/>
<ellipse cx="268.58" cy="160.79" rx="14.61" ry="2.44" fill="#2f5718" stroke="#568f33" stroke-width="1.2" opacity="0.8" transform="rotate(-4.17 268.58 160.79)"/>
<ellipse cx="296.97" cy="161.32" rx="12.04" ry="2.55" fill="#2f5718" stroke="#568f33" stroke-width="1.2" opacity="0.8" transform="rotate(4.29 296.97 161.32)"/>
<ellipse cx="322.33" cy="163.89" rx="11.24" ry="1.69" fill="#2f5718" stroke="#568f33" stroke-width="1.2" opacity="0.8" transform="rotate(-3.64 322.33 163.89)"/>
<ellipse cx="349.09" cy="162.24" rx="11.8" ry="2.34" fill="#2f5718" stroke="#568f33" stroke-width="1.2" opacity="0.8" transform="rotate(-2.36 349.09 162.24)"/>
<ellipse cx="379.56" cy="162.41" rx="14.94" ry="2.73" fill="#2f5718" stroke="#568f33" stroke-width="1.2" opacity="0.8" transform="rotate(-3.77 379.56 162.41)"/>
<ellipse cx="408" cy="160.96" rx="10.02" ry="2.85" fill="#2f5718" stroke="#568f33" stroke-width="1.2" opacity="0.8" transform="rotate(0.74 408 160.96)"/>
<ellipse cx="430.81" cy="160.31" rx="9.3" ry="2.32" fill="#2f5718" stroke="#568f33" stroke-width="1.2" opacity="0.8" transform="rotate(-4.68 430.81 160.31)"/>
<ellipse cx="456.56" cy="162.63" rx="14.91" ry="2.91" fill="#2f5718" stroke="#568f33" stroke-width="1.2" opacity="0.8" transform="rotate(-1.92 456.56 162.63)"/>
<ellipse cx="32.57" cy="171.32" rx="10.67" ry="2.39" fill="#2f5718" stroke="#568f33" stroke-width="1.2" opacity="0.8" transform="rotate(-4.84 32.57 171.32)"/>
<ellipse cx="56.12" cy="169.65" rx="11.28" ry="1.71" fill="#2f5718" stroke="#568f33" stroke-width="1.2" opacity="0.8" transform="rotate(0.7 56.12 169.65)"/>
<ellipse cx="80.55" cy="170.37" rx="11.64" ry="1.9" fill="#2f5718" stroke="#568f33" stroke-width="1.2" opacity="0.8" transform="rotate(-1.68 80.55 170.37)"/>
<ellipse cx="103.38" cy="168.68" rx="8.27" ry="2.51" fill="#2f5718" stroke="#568f33" stroke-width="1.2" opacity="0.8" transform="rotate(4.59 103.38 168.68)"/>
<ellipse cx="125.74" cy="170.6" rx="11.29" ry="2.12" fill="#2f5718" stroke="#568f33" stroke-width="1.2" opacity="0.8" transform="rotate(1.89 125.74 170.6)"/>
<ellipse cx="153.56" cy="172.08" rx="13.26" ry="2.23" fill="#2f5718" stroke="#568f33" stroke-width="1.2" opacity="0.8" transform="rotate(3.38 153.56 172.08)"/>
<ellipse cx="181.25" cy="170.36" rx="10.86" ry="2.15" fill="#2f5718" stroke="#568f33" stroke-width="1.2" opacity="0.8" transform="rotate(4.05 181.25 170.36)"/>
<ellipse cx="206.37" cy="171.72" rx="11.68" ry="2.15" fill="#2f5718" stroke="#568f33" stroke-width="1.2" opacity="0.8" transform="rotate(-1.79 206.37 171.72)"/>
<ellipse cx="232.29" cy="171.03" rx="13.08" ry="2.85" fill="#2f5718" stroke="#568f33" stroke-width="1.2" opacity="0.8" transform="rotate(0.98 232.29 171.03)"/>
<ellipse cx="258.76" cy="168.38" rx="10.13" ry="2.39" fill="#2f5718" stroke="#568f33" stroke-width="1.2" opacity="0.8" transform="rotate(-3.76 258.76 168.38)"/>
<ellipse cx="282.75" cy="168.31" rx="11.52" ry="2.1" fill="#2f5718" stroke="#568f33" stroke-width="1.2" opacity="0.8" transform="rotate(1.95 282.75 168.31)"/>
<ellipse cx="306.52" cy="169.68" rx="9.67" ry="1.96" fill="#2f5718" stroke="#568f33" stroke-width="1.2" opacity="0.8" transform="rotate(-2.64 306.52 169.68)"/>
<ellipse cx="331.78" cy="170.76" rx="14.38" ry="2.95" fill="#2f5718" stroke="#568f33" stroke-width="1.2" opacity="0.8" transform="rotate(3.66 331.78 170.76)"/>
<ellipse cx="362.06" cy="171.09" rx="13.64" ry="1.83" fill="#2f5718" stroke="#568f33" stroke-width="1.2" opacity="0.8" transform="rotate(0.67 362.06 171.09)"/>
<ellipse cx="388.1" cy="168.6" rx="8.69" ry="2.69" fill="#2f5718" stroke="#568f33" stroke-width="1.2" opacity="0.8" transform="rotate(0.38 388.1 168.6)"/>
<ellipse cx="408.64" cy="169.3" rx="8" ry="1.87" fill="#2f5718" stroke="#568f33" stroke-width="1.2" opacity="0.8" transform="rotate(-1.75 408.64 169.3)"/>
<ellipse cx="432.1" cy="169.69" rx="14.27" ry="2.72" fill="#2f5718" stroke="#568f33" stroke-width="1.2" opacity="0.8" transform="rotate(-1.44 432.1 169.69)"/>
<ellipse cx="457.44" cy="171.69" rx="8.32" ry="1.55" fill="#2f5718" stroke="#568f33" stroke-width="1.2" opacity="0.8" transform="rotate(-1.92 457.44 171.69)"/>
<ellipse cx="38.31" cy="177.03" rx="14.84" ry="2.21" fill="#2f5718" stroke="#568f33" stroke-width="1.2" opacity="0.8" transform="rotate(-2.05 38.31 177.03)"/>
<ellipse cx="71.2" cy="179.55" rx="14.28" ry="1.79" fill="#2f5718" stroke="#568f33" stroke-width="1.2" opacity="0.8" transform="rotate(-1.46 71.2 179.55)"/>
<ellipse cx="97.1" cy="180.18" rx="9.2" ry="2.82" fill="#2f5718" stroke="#568f33" stroke-width="1.2" opacity="0.8" transform="rotate(-2.98 97.1 180.18)"/>
<ellipse cx="118.54" cy="176.4" rx="9.34" ry="2.82" fill="#2f5718" stroke="#568f33" stroke-width="1.2" opacity="0.8" transform="rotate(-3.94 118.54 176.4)"/>
<ellipse cx="141.25" cy="179.68" rx="10.19" ry="2.85" fill="#2f5718" stroke="#568f33" stroke-width="1.2" opacity="0.8" transform="rotate(2.13 141.25 179.68)"/>
<ellipse cx="165.71" cy="177.98" rx="12.87" ry="2.91" fill="#2f5718" stroke="#568f33" stroke-width="1.2" opacity="0.8" transform="rotate(-4.21 165.71 177.98)"/>
<ellipse cx="190.41" cy="176.99" rx="10.15" ry="2.57" fill="#2f5718" stroke="#568f33" stroke-width="1.2" opacity="0.8" transform="rotate(-3.19 190.41 176.99)"/>
<ellipse cx="214.91" cy="177.69" rx="12.65" ry="2.69" fill="#2f5718" stroke="#568f33" stroke-width="1.2" opacity="0.8" transform="rotate(1.62 214.91 177.69)"/>
<ellipse cx="243.35" cy="177.4" rx="12.13" ry="1.84" fill="#2f5718" stroke="#568f33" stroke-width="1.2" opacity="0.8" transform="rotate(4.27 243.35 177.4)"/>
<ellipse cx="268.42" cy="176.56" rx="9.94" ry="2.46" fill="#2f5718" stroke="#568f33" stroke-width="1.2" opacity="0.8" transform="rotate(4.83 268.42 176.56)"/>
<ellipse cx="292.37" cy="176.38" rx="11.7" ry="2.3" fill="#2f5718" stroke="#568f33" stroke-width="1.2" opacity="0.8" transform="rotate(1 292.37 176.38)"/>
<ellipse cx="315.68" cy="176.55" rx="9.76" ry="2.7" fill="#2f5718" stroke="#568f33" stroke-width="1.2" opacity="0.8" transform="rotate(-2.15 315.68 176.55)"/>
<ellipse cx="338.43" cy="178.39" rx="9.72" ry="1.92" fill="#2f5718" stroke="#568f33" stroke-width="1.2" opacity="0.8" transform="rotate(-3.14 338.43 178.39)"/>
<ellipse cx="366.75" cy="178.05" rx="14.91" ry="1.55" fill="#2f5718" stroke="#568f33" stroke-width="1.2" opacity="0.8" transform="rotate(2.51 366.75 178.05)"/>
<ellipse cx="398.33" cy="176.92" rx="14.5" ry="2.25" fill="#2f5718" stroke="#568f33" stroke-width="1.2" opacity="0.8" transform="rotate(0.56 398.33 176.92)"/>
<ellipse cx="426.28" cy="179.33" rx="10.52" ry="2.49" fill="#2f5718" stroke="#568f33" stroke-width="1.2" opacity="0.8" transform="rotate(0.17 426.28 179.33)"/>
<ellipse cx="453.24" cy="178.28" rx="13.92" ry="2.53" fill="#2f5718" stroke="#568f33" stroke-width="1.2" opacity="0.8" transform="rotate(4.52 453.24 178.28)"/>
<ellipse cx="34.72" cy="194.94" rx="12.49" ry="9.04" fill="#3a6a20" stroke="#5a9634" stroke-width="1.8" opacity="0.7" transform="rotate(-2.98 34.72 194.94)"/>
<ellipse cx="71.38" cy="194.94" rx="18.08" ry="9.96" fill="#3a6a20" stroke="#5a9634" stroke-width="1.8" opacity="0.7" transform="rotate(-0.54 71.38 194.94)"/>
<ellipse cx="109.57" cy="194.14" rx="16.22" ry="8.49" fill="#3a6a20" stroke="#5a9634" stroke-width="1.8" opacity="0.7" transform="rotate(4.84 109.57 194.14)"/>
<ellipse cx="147.8" cy="194.72" rx="16.15" ry="10.36" fill="#3a6a20" stroke="#5a9634" stroke-width="1.8" opacity="0.7" transform="rotate(-17.41 147.8 194.72)"/>
<ellipse cx="182.49" cy="195.77" rx="15.46" ry="8.17" fill="#3a6a20" stroke="#5a9634" stroke-width="1.8" opacity="0.7" transform="rotate(-11.85 182.49 195.77)"/>
<ellipse cx="215.8" cy="196.28" rx="11.65" ry="10.54" fill="#3a6a20" stroke="#5a9634" stroke-width="1.8" opacity="0.7" transform="rotate(2.16 215.8 196.28)"/>
<ellipse cx="246.76" cy="195.24" rx="13.14" ry="6.73" fill="#3a6a20" stroke="#5a9634" stroke-width="1.8" opacity="0.7" transform="rotate(-22.88 246.76 195.24)"/>
<ellipse cx="280.75" cy="195.06" rx="16.59" ry="8.63" fill="#3a6a20" stroke="#5a9634" stroke-width="1.8" opacity="0.7" transform="rotate(4.43 280.75 195.06)"/>
<ellipse cx="319.08" cy="195.02" rx="18.39" ry="6.86" fill="#3a6a20" stroke="#5a9634" stroke-width="1.8" opacity="0.7" transform="rotate(-17.01 319.08 195.02)"/>
<ellipse cx="361.71" cy="194.24" rx="18.48" ry="9.93" fill="#3a6a20" stroke="#5a9634" stroke-width="1.8" opacity="0.7" transform="rotate(-4.47 361.71 194.24)"/>
<ellipse cx="397.59" cy="194.17" rx="12.95" ry="10.85" fill="#3a6a20" stroke="#5a9634" stroke-width="1.8" opacity="0.7" transform="rotate(-0.52 397.59 194.17)"/>
<ellipse cx="436.46" cy="195.82" rx="19.88" ry="6.72" fill="#3a6a20" stroke="#5a9634" stroke-width="1.8" opacity="0.7" transform="rotate(12.25 436.46 195.82)"/>
<ellipse cx="36.94" cy="226.17" rx="19.01" ry="6.71" fill="#3a6a20" stroke="#5a9634" stroke-width="1.8" opacity="0.7" transform="rotate(-10.1 36.94 226.17)"/>
<ellipse cx="72.33" cy="228.58" rx="11.69" ry="6.17" fill="#3a6a20" stroke="#5a9634" stroke-width="1.8" opacity="0.7" transform="rotate(13.16 72.33 228.58)"/>
<ellipse cx="103.03" cy="226.81" rx="13.07" ry="7.27" fill="#3a6a20" stroke="#5a9634" stroke-width="1.8" opacity="0.7" transform="rotate(-12.92 103.03 226.81)"/>
<ellipse cx="140.33" cy="225.95" rx="19.39" ry="7.82" fill="#3a6a20" stroke="#5a9634" stroke-width="1.8" opacity="0.7" transform="rotate(24.06 140.33 225.95)"/>
<ellipse cx="176.53" cy="227.2" rx="11.36" ry="8.02" fill="#3a6a20" stroke="#5a9634" stroke-width="1.8" opacity="0.7" transform="rotate(-22.07 176.53 227.2)"/>
<ellipse cx="209.51" cy="226.96" rx="17.25" ry="10.32" fill="#3a6a20" stroke="#5a9634" stroke-width="1.8" opacity="0.7" transform="rotate(19.32 209.51 226.96)"/>
<ellipse cx="246.15" cy="226.12" rx="14.54" ry="10.22" fill="#3a6a20" stroke="#5a9634" stroke-width="1.8" opacity="0.7" transform="rotate(14.07 246.15 226.12)"/>
<ellipse cx="278.67" cy="226.8" rx="14.13" ry="6.92" fill="#3a6a20" stroke="#5a9634" stroke-width="1.8" opacity="0.7" transform="rotate(-16.81 278.67 226.8)"/>
<ellipse cx="309.54" cy="225.83" rx="12.93" ry="8.34" fill="#3a6a20" stroke="#5a9634" stroke-width="1.8" opacity="0.7" transform="rotate(-2.64 309.54 225.83)"/>
<ellipse cx="346.56" cy="225.42" rx="17.11" ry="10.31" fill="#3a6a20" stroke="#5a9634" stroke-width="1.8" opacity="0.7" transform="rotate(-5.85 346.56 225.42)"/>
<ellipse cx="384.19" cy="225.7" rx="17.22" ry="7.81" fill="#3a6a20" stroke="#5a9634" stroke-width="1.8" opacity="0.7" transform="rotate(-24.07 384.19 225.7)"/>
<ellipse cx="418.5" cy="228.29" rx="13.36" ry="7.96" fill="#3a6a20" stroke="#5a9634" stroke-width="1.8" opacity="0.7" transform="rotate(10.76 418.5 228.29)"/>
<ellipse cx="450.18" cy="228.35" rx="14.25" ry="6.77" fill="#3a6a20" stroke="#5a9634" stroke-width="1.8" opacity="0.7" transform="rotate(-7.01 450.18 228.35)"/>
<ellipse cx="80" cy="208" rx="3" ry="1.2" fill="#c8d0d8" opacity="0.85"/>
<ellipse cx="150" cy="185" rx="3" ry="1.2" fill="#c8d0d8" opacity="0.85"/>
<ellipse cx="205" cy="200" rx="3" ry="1.2" fill="#c8d0d8" opacity="0.85"/>
<ellipse cx="292" cy="213" rx="3" ry="1.2" fill="#c8d0d8" opacity="0.85"/>
<ellipse cx="340" cy="200" rx="3" ry="1.2" fill="#c8d0d8" opacity="0.85"/>
<ellipse cx="365" cy="235" rx="3" ry="1.2" fill="#c8d0d8" opacity="0.85"/>
<ellipse cx="410" cy="232" rx="3" ry="1.2" fill="#c8d0d8" opacity="0.85"/>
<ellipse cx="128" cy="230" rx="3" ry="1.2" fill="#c8d0d8" opacity="0.85"/>
<ellipse cx="97" cy="173" rx="3" ry="1.2" fill="#c8d0d8" opacity="0.85"/>
<ellipse cx="265" cy="167" rx="3" ry="1.2" fill="#c8d0d8" opacity="0.85"/>
<path d="M40,64 L61,64 L53,100 L48,100 Z" fill="url(#yv)" filter="url(#bl1)"/>
<ellipse cx="50.1" cy="37.7" rx="6.3" ry="7.8" fill="url(#red3)"/>
<ellipse cx="116.7" cy="40" rx="7" ry="7" fill="url(#pur)"/>
<ellipse cx="139" cy="46.5" rx="8" ry="3.5" fill="#fffbe8" transform="rotate(25 139 46.5)" filter="url(#bl1)"/>
<rect x="187" y="12" width="13" height="34" fill="#c8b0ff" filter="url(#bl2)" opacity="0.24"/>
<rect x="189" y="12" width="9" height="34" fill="url(#wv)" filter="url(#bl1)" opacity="0.6"/>
<rect x="185" y="55" width="17" height="44" fill="#ffe060" filter="url(#bl2)" opacity="0.45"/>
<rect x="185" y="55" width="17" height="44" fill="#c8b0ff" filter="url(#bl2)" opacity="0.4"/>
<rect x="187" y="55" width="13" height="44" fill="url(#wv)" filter="url(#bl1)" opacity="1"/>
<rect x="236" y="31.5" width="31" height="15" rx="7" fill="url(#yh)" filter="url(#bl1)"/>
<ellipse cx="236.5" cy="39.2" rx="7" ry="7.5" fill="url(#red3)"/>
<rect x="269" y="33" width="24" height="14" rx="7" fill="url(#yh)" filter="url(#bl1)"/>
<rect x="296" y="35" width="22" height="12" rx="6" fill="url(#yh)" filter="url(#bl1)" opacity="0.7"/>
<rect x="385" y="30" width="12" height="16" fill="#ffd840" filter="url(#bl2)" opacity="0.28"/>
<rect x="387" y="30" width="8" height="16" fill="url(#yv)" filter="url(#bl1)" opacity="0.7"/>
<rect x="280" y="73" width="16" height="30" fill="#ffd840" filter="url(#bl2)" opacity="0.4"/>
<rect x="282" y="73" width="12" height="30" fill="url(#yv)" filter="url(#bl1)" opacity="1"/>
<ellipse cx="287.5" cy="78" rx="5.8" ry="5" fill="url(#red3)"/>
<rect x="383" y="67" width="16" height="28" fill="#c8b0ff" filter="url(#bl2)" opacity="0.4"/>
<rect x="385" y="67" width="12" height="28" fill="url(#wv)" filter="url(#bl1)" opacity="1"/>
<ellipse cx="390.8" cy="95.3" rx="5.8" ry="5.8" fill="url(#pur)"/>
<rect x="184" y="100" width="16" height="10" fill="#c8b0ff" filter="url(#bl2)" opacity="0.4"/>
<rect x="186" y="100" width="12" height="10" fill="url(#wv)" filter="url(#bl1)" opacity="1"/>
<ellipse cx="191.8" cy="111" rx="5.5" ry="5.5" fill="url(#pur)"/>
<rect x="134" y="122" width="26" height="18" fill="#ffd840" filter="url(#bl2)" opacity="0.4"/>
<rect x="134" y="124" width="26" height="14" fill="url(#yh)" filter="url(#bl2)" opacity="1"/>
<ellipse cx="164" cy="131" rx="7.5" ry="7.5" fill="url(#red3)"/>
<ellipse cx="110" cy="134.6" rx="6.5" ry="6.5" fill="url(#pur)"/>
<rect x="330" y="124" width="19" height="15" fill="#c8b0ff" filter="url(#bl2)" opacity="0.4"/>
<rect x="330" y="126" width="19" height="11" fill="url(#wh)" filter="url(#bl1)" opacity="1"/>
<ellipse cx="349" cy="131" rx="5.5" ry="5.5" fill="url(#pur)"/>
<rect x="406" y="110" width="18" height="30" fill="#ffd840" filter="url(#bl2)" opacity="0.32"/>
<rect x="408" y="110" width="14" height="30" fill="url(#yv)" filter="url(#bl2)" opacity="0.8"/>
<ellipse cx="228" cy="124" rx="3.5" ry="10" fill="url(#yv)" filter="url(#bl1)" opacity="0.85"/>
<ellipse cx="282" cy="134" rx="8" ry="4" fill="url(#yh)" filter="url(#bl1)" opacity="0.85"/>
<ellipse cx="307" cy="134" rx="8" ry="4" fill="url(#yh)" filter="url(#bl1)" opacity="0.7"/>
<rect x="101" y="150" width="19" height="39" fill="#c8b0ff" filter="url(#bl2)" opacity="0.4"/>
<rect x="103" y="150" width="15" height="39" fill="url(#wv)" filter="url(#bl1)" opacity="1"/>
<rect x="102" y="203" width="17" height="10" fill="#ffd840" filter="url(#bl2)" opacity="0.32"/>
<rect x="104" y="203" width="13" height="10" fill="url(#yv)" filter="url(#bl1)" opacity="0.8"/>
<rect x="220" y="153" width="14" height="9" fill="#c8b0ff" filter="url(#bl2)" opacity="0.4"/>
<rect x="222" y="153" width="10" height="9" fill="url(#wv)" filter="url(#bl1)" opacity="1"/>
<ellipse cx="227.4" cy="162" rx="5.5" ry="5.5" fill="url(#pur)"/>
<path d="M119,171 L172,168 L172,182 L119,178 Z" fill="url(#yh)" filter="url(#bl1)"/>
<ellipse cx="172.5" cy="175.1" rx="6.8" ry="6.8" fill="url(#pur)"/>
<path d="M306,162 L390,166 L390,172 L306,177 Z" fill="url(#yh)" filter="url(#bl2)"/>
<ellipse cx="306.6" cy="169.5" rx="7.5" ry="7.5" fill="url(#red3)"/>
<rect x="404" y="149" width="22" height="31" fill="#ffd840" filter="url(#bl2)" opacity="0.4"/>
<rect x="406" y="149" width="18" height="31" fill="url(#yv)" filter="url(#bl1)" opacity="1"/>
<ellipse cx="414.5" cy="181.4" rx="8.5" ry="7.5" fill="url(#red3)"/>
<rect x="270.7" y="181" width="16.5" height="62" fill="#c8b0ff" filter="url(#bl2)" opacity="0.4"/>
<rect x="272.7" y="181" width="12.5" height="62" fill="url(#wv)" filter="url(#bl1)" opacity="1"/>
<ellipse cx="279" cy="178.2" rx="7" ry="7" fill="url(#pur)"/>
<rect x="48" y="193" width="24" height="50" fill="#ffd840" filter="url(#bl2)" opacity="0.38"/>
<rect x="50" y="193" width="20" height="50" fill="url(#yv)" filter="url(#bl1)" opacity="0.95"/>
<path d="M44,198 Q60,195 76,197 L76,203 Q60,201 44,204 Z" fill="#4a7f2b"/>
<path d="M44,216 Q60,213 76,215 L76,219 Q60,217 44,220 Z" fill="#4a7f2b"/>
<path d="M44,234 Q60,231 76,233 L76,238 Q60,236 44,239 Z" fill="#4a7f2b"/>
<ellipse cx="58" cy="185.2" rx="10" ry="8.5" fill="url(#red3)"/>
<ellipse cx="58" cy="193" rx="9" ry="2.5" fill="#ffc020" filter="url(#bl1)" opacity="0.8"/>
<rect x="166" y="209" width="78" height="15" fill="#c8b0ff" filter="url(#bl2)" opacity="0.4"/>
<rect x="166" y="211" width="78" height="11" fill="url(#wh)" filter="url(#bl1)" opacity="1"/>
<ellipse cx="250.7" cy="216.9" rx="6.5" ry="6.5" fill="url(#pur)"/>
<rect x="386" y="203" width="23" height="20" fill="#c8b0ff" filter="url(#bl2)" opacity="0.4"/>
<rect x="386" y="205" width="23" height="16" fill="url(#wh)" filter="url(#bl1)" opacity="1"/>
<ellipse cx="386.5" cy="212.5" rx="7.5" ry="7.5" fill="url(#pur)"/>
</g>
<text x="27.8" y="15.5" font-size="16" text-anchor="start" fill="#fff">(a)</text>
<line x1="25.5" y1="1.5" x2="674.6" y2="1.5" stroke="#444" stroke-width="1.2"/>
<line x1="25.5" y1="243.3" x2="674.5" y2="243.3" stroke="#444" stroke-width="1.3"/>
<line x1="25.5" y1="1" x2="25.5" y2="244" stroke="#555" stroke-width="1"/>
<line x1="674" y1="1" x2="674" y2="244" stroke="#777" stroke-width="1.4"/>
<text x="449" y="46.9" font-size="16" text-anchor="start" fill="#111" font-weight="bold">Conductive porous structure</text>
<text x="483.8" y="119.4" font-size="16" text-anchor="start" fill="#111">Fast electron transfer</text>
<text x="484.6" y="195.3" font-size="16" text-anchor="start" fill="#111">Rapid electrolyte diffusion</text>
<path d="M457.09,108.26 C457.5,108.67 458.79,109.7 459.54,110.72 C460.29,111.74 461.01,113.11 461.59,114.4 C462.17,115.7 462.58,117.37 463.02,118.49 C463.46,119.61 463.87,120.63 464.24,121.14 C464.61,121.65 464.95,121.72 465.26,121.55 C465.57,121.38 465.74,120.97 466.08,120.12 C466.42,119.27 466.83,117.87 467.31,116.44 C467.79,115.01 468.39,113.04 468.94,111.54 C469.49,110.04 470.03,108.68 470.58,107.45 C471.13,106.22 471.68,105.07 472.22,104.18 C472.77,103.29 473.24,102.61 473.85,102.13 C474.46,101.65 475.51,101.55 475.89,101.31 C476.26,101.07 476.24,100.84 476.1,100.7 C475.97,100.56 475.66,100.33 475.08,100.5 C474.5,100.67 473.37,101.17 472.62,101.72 C471.87,102.27 471.26,102.88 470.58,103.77 C469.9,104.66 469.22,105.74 468.54,107.04 C467.86,108.33 467.07,110.11 466.49,111.54 C465.91,112.97 465.54,115.28 465.06,115.62 C464.58,115.96 464.21,114.4 463.63,113.58 C463.05,112.76 462.34,111.57 461.59,110.72 C460.84,109.87 459.88,108.91 459.13,108.47 C458.38,108.03 457.43,108.13 457.09,108.06 Z" fill="#45ab25"/>
<path d="M458.19,182.66 C458.6,183.07 459.89,184.1 460.64,185.12 C461.39,186.14 462.11,187.5 462.69,188.8 C463.27,190.1 463.68,191.77 464.12,192.89 C464.56,194.01 464.97,195.03 465.34,195.54 C465.71,196.05 466.05,196.12 466.36,195.95 C466.67,195.78 466.84,195.37 467.18,194.52 C467.52,193.67 467.93,192.27 468.41,190.84 C468.89,189.41 469.5,187.44 470.04,185.94 C470.59,184.44 471.13,183.08 471.68,181.85 C472.23,180.62 472.78,179.47 473.32,178.58 C473.87,177.69 474.34,177.01 474.95,176.53 C475.56,176.05 476.62,175.95 476.99,175.71 C477.37,175.47 477.34,175.23 477.2,175.1 C477.07,174.97 476.76,174.73 476.18,174.9 C475.6,175.07 474.47,175.57 473.72,176.12 C472.97,176.67 472.36,177.28 471.68,178.17 C471,179.06 470.32,180.15 469.64,181.44 C468.96,182.73 468.17,184.51 467.59,185.94 C467.01,187.37 466.64,189.68 466.16,190.02 C465.68,190.36 465.31,188.8 464.73,187.98 C464.15,187.16 463.44,185.97 462.69,185.12 C461.94,184.27 460.98,183.31 460.23,182.87 C459.48,182.43 458.53,182.53 458.19,182.46 Z" fill="#45ab25"/>
<rect x="54.5" y="262.4" width="160.5" height="160.1" fill="none" stroke="#333" stroke-width="1.2"/>
<line x1="54.5" y1="422.5" x2="54.5" y2="425.5" stroke="#333" stroke-width="1.2"/>
<line x1="74.56" y1="422.5" x2="74.56" y2="424" stroke="#333" stroke-width="1.2"/>
<line x1="94.62" y1="422.5" x2="94.62" y2="425.5" stroke="#333" stroke-width="1.2"/>
<line x1="114.69" y1="422.5" x2="114.69" y2="424" stroke="#333" stroke-width="1.2"/>
<line x1="134.75" y1="422.5" x2="134.75" y2="425.5" stroke="#333" stroke-width="1.2"/>
<line x1="154.81" y1="422.5" x2="154.81" y2="424" stroke="#333" stroke-width="1.2"/>
<line x1="174.88" y1="422.5" x2="174.88" y2="425.5" stroke="#333" stroke-width="1.2"/>
<line x1="194.94" y1="422.5" x2="194.94" y2="424" stroke="#333" stroke-width="1.2"/>
<line x1="215" y1="422.5" x2="215" y2="425.5" stroke="#333" stroke-width="1.2"/>
<text x="54.5" y="440.5" font-size="16" text-anchor="middle" fill="#111">0.0</text>
<text x="94.62" y="440.5" font-size="16" text-anchor="middle" fill="#111">0.2</text>
<text x="134.75" y="440.5" font-size="16" text-anchor="middle" fill="#111">0.4</text>
<text x="174.88" y="440.5" font-size="16" text-anchor="middle" fill="#111">0.6</text>
<text x="215" y="440.5" font-size="16" text-anchor="middle" fill="#111">0.8</text>
<line x1="51.5" y1="422.5" x2="54.5" y2="422.5" stroke="#333" stroke-width="1.2"/>
<line x1="53" y1="402.49" x2="54.5" y2="402.49" stroke="#333" stroke-width="1.2"/>
<line x1="51.5" y1="382.48" x2="54.5" y2="382.48" stroke="#333" stroke-width="1.2"/>
<line x1="53" y1="362.46" x2="54.5" y2="362.46" stroke="#333" stroke-width="1.2"/>
<line x1="51.5" y1="342.45" x2="54.5" y2="342.45" stroke="#333" stroke-width="1.2"/>
<line x1="53" y1="322.44" x2="54.5" y2="322.44" stroke="#333" stroke-width="1.2"/>
<line x1="51.5" y1="302.42" x2="54.5" y2="302.42" stroke="#333" stroke-width="1.2"/>
<line x1="53" y1="282.41" x2="54.5" y2="282.41" stroke="#333" stroke-width="1.2"/>
<line x1="51.5" y1="262.4" x2="54.5" y2="262.4" stroke="#333" stroke-width="1.2"/>
<text x="48.8" y="428.2" font-size="16" text-anchor="end" fill="#111">-20</text>
<text x="48.8" y="388.18" font-size="16" text-anchor="end" fill="#111">-10</text>
<text x="48.8" y="348.15" font-size="16" text-anchor="end" fill="#111">0</text>
<text x="48.8" y="308.12" font-size="16" text-anchor="end" fill="#111">10</text>
<text x="48.8" y="268.1" font-size="16" text-anchor="end" fill="#111">20</text>
<text x="135" y="460.5" font-size="16" text-anchor="middle" fill="#111">Potential (V <tspan font-style="italic">vs.</tspan> SCE)</text>
<text x="16" y="341" font-size="16.4" text-anchor="middle" fill="#111" transform="rotate(-90 16 341)">Current density (A g<tspan font-size="11.5" dy="-6">−1</tspan><tspan dy="6">)</tspan></text>
<text x="56.5" y="278.2" font-size="16" text-anchor="start" fill="#111">(b)</text>
<path d="M54.9,379.3 C55.05,378.58 55.4,376.55 55.8,375 C56.2,373.45 56.68,371.5 57.3,370 C57.92,368.5 58.58,367.4 59.5,366 C60.42,364.6 61.38,363.42 62.8,361.6 C64.22,359.78 66.23,356.92 68,355.1 C69.77,353.28 70.57,352.88 73.4,350.7 C76.23,348.52 81.12,344.82 85,342 C88.88,339.18 92.8,336.63 96.7,333.8 C100.6,330.97 104.52,327.63 108.4,325 C112.28,322.37 116.4,320.17 120,318 C123.6,315.83 126.62,313.42 130,312 C133.38,310.58 136.87,310.23 140.3,309.5 C143.73,308.77 147.4,308.2 150.6,307.6 C153.8,307 156.52,306.22 159.5,305.9 C162.48,305.58 165.28,305.63 168.5,305.7 C171.72,305.77 175.37,305.92 178.8,306.3 C182.23,306.68 185.67,307.35 189.1,308 C192.53,308.65 196.18,309.47 199.4,310.2 C202.62,310.93 205.88,311.72 208.4,312.4 C210.92,313.08 214.08,313.28 214.5,314.3 C214.92,315.32 212.35,316.72 210.9,318.5 C209.45,320.28 207.72,322.75 205.8,325 C203.88,327.25 201.75,329.77 199.4,332 C197.05,334.23 194.07,336.75 191.7,338.4 C189.33,340.05 187.57,340.67 185.2,341.9 C182.83,343.13 180.28,344.52 177.5,345.8 C174.72,347.08 171.5,348.32 168.5,349.6 C165.5,350.88 162.28,352.22 159.5,353.5 C156.72,354.78 154.15,356.02 151.8,357.3 C149.45,358.58 147.75,359.8 145.4,361.2 C143.05,362.6 140.27,364.32 137.7,365.7 C135.13,367.08 133.05,368.15 130,369.5 C126.95,370.85 122.67,372.45 119.4,373.8 C116.13,375.15 112.97,376.43 110.4,377.6 C107.83,378.77 106.57,380.05 104,380.8 C101.43,381.55 98.65,381.72 95,382.1 C91.35,382.48 86.38,383.1 82.1,383.1 C77.82,383.1 72.93,382.48 69.3,382.1 C65.67,381.72 62.7,381.25 60.3,380.8 C57.9,380.35 55.8,379.63 54.9,379.4" fill="none" stroke="#000" stroke-width="1.5"/>
<path d="M54.9,379.3 C54.97,378.42 55.15,375.55 55.3,374 C55.45,372.45 55.47,372.17 55.8,370 C56.13,367.83 56.72,363.83 57.3,361 C57.88,358.17 58.18,356.67 59.3,353 C60.42,349.33 62.23,342.88 64,339 C65.77,335.12 67.75,332.32 69.9,329.7 C72.05,327.08 74.38,325.15 76.9,323.3 C79.42,321.45 81.7,320.25 85,318.6 C88.3,316.95 92.8,314.77 96.7,313.4 C100.6,312.03 104.52,310.98 108.4,310.4 C112.28,309.82 116.4,310.1 120,309.9 C123.6,309.7 126.62,309.48 130,309.2 C133.38,308.92 136.87,308.68 140.3,308.2 C143.73,307.72 147.6,307.37 150.6,306.3 C153.6,305.23 155.73,303.52 158.3,301.8 C160.87,300.08 163.43,297.72 166,296 C168.57,294.28 171.13,292.63 173.7,291.5 C176.27,290.37 179.05,289.52 181.4,289.2 C183.75,288.88 185.67,289.17 187.8,289.6 C189.93,290.03 192.05,291.05 194.2,291.8 C196.35,292.55 198.55,293.55 200.7,294.1 C202.85,294.65 205.18,295.05 207.1,295.1 C209.02,295.15 210.92,294.67 212.2,294.4 C213.48,294.13 214.48,291.83 214.8,293.5 C215.12,295.17 214.42,300.65 214.1,304.4 C213.78,308.15 213.53,312.37 212.9,316 C212.27,319.63 211.27,323 210.3,326.2 C209.33,329.4 208.12,332.48 207.1,335.2 C206.08,337.92 205.27,340.28 204.2,342.5 C203.13,344.72 201.93,346.35 200.7,348.5 C199.47,350.65 198.1,353.18 196.8,355.4 C195.5,357.62 194.4,359.87 192.9,361.8 C191.4,363.73 189.72,365.38 187.8,367 C185.88,368.62 183.53,370.38 181.4,371.5 C179.27,372.62 177.15,373.17 175,373.7 C172.85,374.23 170.65,374.22 168.5,374.7 C166.35,375.18 164.23,375.63 162.1,376.6 C159.97,377.57 157.83,379.07 155.7,380.5 C153.57,381.93 151.45,383.92 149.3,385.2 C147.15,386.48 144.95,387.07 142.8,388.2 C140.65,389.33 138.03,390.98 136.4,392 C134.77,393.02 134.12,393.77 133,394.3 C131.88,394.83 130.9,395.2 129.7,395.2 C128.5,395.2 127.3,394.98 125.8,394.3 C124.3,393.62 122.63,392.38 120.7,391.1 C118.77,389.82 116.57,387.98 114.2,386.6 C111.83,385.22 109.07,383.8 106.5,382.8 C103.93,381.8 101.8,381.18 98.8,380.6 C95.8,380.02 92.35,379.58 88.5,379.3 C84.65,379.02 79.98,378.9 75.7,378.9 C71.42,378.9 66.27,379.22 62.8,379.3 C59.33,379.38 56.22,379.38 54.9,379.4" fill="none" stroke="#1010ff" stroke-width="1.5"/>
<path d="M54.9,379.3 C54.95,378.42 55.07,376.05 55.2,374 C55.33,371.95 55.45,369.83 55.7,367 C55.95,364.17 56.28,360.1 56.7,357 C57.12,353.9 57.37,352.17 58.2,348.4 C59.03,344.63 60.15,338.3 61.7,334.4 C63.25,330.5 65.55,327.63 67.5,325 C69.45,322.37 71.25,320.35 73.4,318.6 C75.55,316.85 77.48,316.15 80.4,314.5 C83.32,312.85 87.2,310.65 90.9,308.7 C94.6,306.75 99.68,303.87 102.6,302.8 C105.52,301.73 105.88,302.1 108.4,302.3 C110.92,302.5 114.98,303.88 117.7,304 C120.42,304.12 122.65,303.25 124.7,303 C126.75,302.75 128.05,302.52 130,302.5 C131.95,302.48 134.27,302.9 136.4,302.9 C138.53,302.9 141.08,303 142.8,302.5 C144.52,302 145.4,301.52 146.7,299.9 C148,298.28 149.32,295.68 150.6,292.8 C151.88,289.92 153.12,285.7 154.4,282.6 C155.68,279.5 156.8,276.23 158.3,274.2 C159.8,272.17 161.7,270.72 163.4,270.4 C165.1,270.08 166.78,270.92 168.5,272.3 C170.22,273.68 171.98,276.35 173.7,278.7 C175.42,281.05 177.08,283.4 178.8,286.4 C180.52,289.4 182.28,293.48 184,296.7 C185.72,299.92 187.4,303.13 189.1,305.7 C190.8,308.27 192.48,310.28 194.2,312.1 C195.92,313.92 197.68,315.48 199.4,316.6 C201.12,317.72 202.8,318.48 204.5,318.8 C206.2,319.12 207.88,318.87 209.6,318.5 C211.32,318.13 214.15,316.17 214.8,316.6 C215.45,317.03 214.15,319.28 213.5,321.1 C212.85,322.92 211.97,325.47 210.9,327.5 C209.83,329.53 208.38,331.37 207.1,333.3 C205.82,335.23 204.38,336.85 203.2,339.1 C202.02,341.35 200.85,344.65 200,346.8 C199.15,348.95 198.85,350.13 198.1,352 C197.35,353.87 196.37,355.72 195.5,358 C194.63,360.28 193.97,363.32 192.9,365.7 C191.83,368.08 190.38,370.7 189.1,372.3 C187.82,373.9 186.92,374.8 185.2,375.3 C183.48,375.8 180.93,375.35 178.8,375.3 C176.67,375.25 174.53,374.67 172.4,375 C170.27,375.33 167.93,376.07 166,377.3 C164.07,378.53 162.52,380.7 160.8,382.4 C159.08,384.1 157.62,386.12 155.7,387.5 C153.78,388.88 151.23,389.2 149.3,390.7 C147.37,392.2 145.72,394.03 144.1,396.5 C142.48,398.97 140.98,403.57 139.6,405.5 C138.22,407.43 136.97,408.1 135.8,408.1 C134.63,408.1 133.57,406.9 132.6,405.5 C131.63,404.1 130.92,401.57 130,399.7 C129.08,397.83 128.23,396.17 127.1,394.3 C125.97,392.43 124.7,390.15 123.2,388.5 C121.7,386.85 120.02,385.47 118.1,384.4 C116.18,383.33 114.05,382.73 111.7,382.1 C109.35,381.47 106.78,381.2 104,380.6 C101.22,380 98.65,379 95,378.5 C91.35,378 86.38,377.68 82.1,377.6 C77.82,377.52 72.93,377.85 69.3,378 C65.67,378.15 62.7,378.28 60.3,378.5 C57.9,378.72 55.8,379.17 54.9,379.3" fill="none" stroke="#ff1010" stroke-width="1.5"/>
<line x1="78" y1="317.4" x2="83.5" y2="327" stroke="#ff20ff" stroke-width="1.3" stroke-dasharray="2.5,1.8"/>
<path d="M89.1,336.7 L80.74,329.39 L85.7,330.78 L86.99,325.8 Z" fill="#ff20ff"/>
<rect x="286.3" y="265.9" width="161" height="160.4" fill="none" stroke="#333" stroke-width="1.2"/>
<rect x="290.92" y="332.31" width="5.9" height="93.99" fill="#ff1a0a" stroke="#1a0000" stroke-width="1"/>
<rect x="297.32" y="384.44" width="5.8" height="41.86" fill="#1400ff" stroke="#40e0f0" stroke-width="1"/>
<rect x="303.52" y="403.84" width="5.8" height="22.46" fill="#474747" stroke="#f0f040" stroke-width="1"/>
<rect x="317.75" y="325.89" width="5.9" height="100.41" fill="#ff1a0a" stroke="#1a0000" stroke-width="1"/>
<rect x="324.15" y="376.58" width="5.8" height="49.72" fill="#1400ff" stroke="#40e0f0" stroke-width="1"/>
<rect x="330.35" y="391.65" width="5.8" height="34.65" fill="#474747" stroke="#f0f040" stroke-width="1"/>
<rect x="344.58" y="316.27" width="5.9" height="110.03" fill="#ff1a0a" stroke="#1a0000" stroke-width="1"/>
<rect x="350.98" y="362.46" width="5.8" height="63.84" fill="#1400ff" stroke="#40e0f0" stroke-width="1"/>
<rect x="357.18" y="372.89" width="5.8" height="53.41" fill="#474747" stroke="#f0f040" stroke-width="1"/>
<rect x="371.42" y="307.12" width="5.9" height="119.18" fill="#ff1a0a" stroke="#1a0000" stroke-width="1"/>
<rect x="377.82" y="347.86" width="5.8" height="78.44" fill="#1400ff" stroke="#40e0f0" stroke-width="1"/>
<rect x="384.02" y="357.81" width="5.8" height="68.49" fill="#474747" stroke="#f0f040" stroke-width="1"/>
<rect x="398.25" y="297.02" width="5.9" height="129.28" fill="#ff1a0a" stroke="#1a0000" stroke-width="1"/>
<rect x="404.65" y="331.66" width="5.8" height="94.64" fill="#1400ff" stroke="#40e0f0" stroke-width="1"/>
<rect x="410.85" y="344.01" width="5.8" height="82.29" fill="#474747" stroke="#f0f040" stroke-width="1"/>
<rect x="425.08" y="272.96" width="5.9" height="153.34" fill="#ff1a0a" stroke="#1a0000" stroke-width="1"/>
<rect x="431.48" y="295.41" width="5.8" height="130.89" fill="#1400ff" stroke="#40e0f0" stroke-width="1"/>
<rect x="437.68" y="316.91" width="5.8" height="109.39" fill="#474747" stroke="#f0f040" stroke-width="1"/>
<rect x="286.3" y="265.9" width="161" height="160.4" fill="none" stroke="#333" stroke-width="1.2"/>
<line x1="299.72" y1="426.3" x2="299.72" y2="429.3" stroke="#333" stroke-width="1.2"/>
<line x1="313.13" y1="426.3" x2="313.13" y2="427.8" stroke="#333" stroke-width="1.2"/>
<line x1="326.55" y1="426.3" x2="326.55" y2="429.3" stroke="#333" stroke-width="1.2"/>
<line x1="339.97" y1="426.3" x2="339.97" y2="427.8" stroke="#333" stroke-width="1.2"/>
<line x1="353.38" y1="426.3" x2="353.38" y2="429.3" stroke="#333" stroke-width="1.2"/>
<line x1="366.8" y1="426.3" x2="366.8" y2="427.8" stroke="#333" stroke-width="1.2"/>
<line x1="380.22" y1="426.3" x2="380.22" y2="429.3" stroke="#333" stroke-width="1.2"/>
<line x1="393.63" y1="426.3" x2="393.63" y2="427.8" stroke="#333" stroke-width="1.2"/>
<line x1="407.05" y1="426.3" x2="407.05" y2="429.3" stroke="#333" stroke-width="1.2"/>
<line x1="420.47" y1="426.3" x2="420.47" y2="427.8" stroke="#333" stroke-width="1.2"/>
<line x1="433.88" y1="426.3" x2="433.88" y2="429.3" stroke="#333" stroke-width="1.2"/>
<line x1="447.3" y1="426.3" x2="447.3" y2="427.8" stroke="#333" stroke-width="1.2"/>
<text x="299.72" y="445.8" font-size="16" text-anchor="middle" fill="#111">10</text>
<text x="326.55" y="445.8" font-size="16" text-anchor="middle" fill="#111">25</text>
<text x="353.38" y="445.8" font-size="16" text-anchor="middle" fill="#111">50</text>
<text x="380.22" y="445.8" font-size="16" text-anchor="middle" fill="#111">75</text>
<text x="407.05" y="445.8" font-size="16" text-anchor="middle" fill="#111">100</text>
<text x="433.88" y="445.8" font-size="16" text-anchor="middle" fill="#111">150</text>
<line x1="283.3" y1="426.3" x2="286.3" y2="426.3" stroke="#333" stroke-width="1.2"/>
<line x1="284.8" y1="386.2" x2="286.3" y2="386.2" stroke="#333" stroke-width="1.2"/>
<line x1="283.3" y1="346.1" x2="286.3" y2="346.1" stroke="#333" stroke-width="1.2"/>
<line x1="284.8" y1="306" x2="286.3" y2="306" stroke="#333" stroke-width="1.2"/>
<line x1="283.3" y1="265.9" x2="286.3" y2="265.9" stroke="#333" stroke-width="1.2"/>
<text x="281.5" y="432" font-size="16" text-anchor="end" fill="#111">0</text>
<text x="281.5" y="351.8" font-size="16" text-anchor="end" fill="#111">50</text>
<text x="281.5" y="271.6" font-size="16" text-anchor="end" fill="#111">100</text>
<text x="367" y="464.7" font-size="16" text-anchor="middle" fill="#111">Scan rate (mV s<tspan font-size="11.5" dy="-6">−1</tspan><tspan dy="6">)</tspan></text>
<text x="254" y="345" font-size="16.3" text-anchor="middle" fill="#111" transform="rotate(-90 254 345)">Capacitive contribution (%)</text>
<text x="288.6" y="281.5" font-size="16" text-anchor="start" fill="#111">(c)</text>
<line x1="298" y1="333.3" x2="304.5" y2="393.5" stroke="#ff40ff" stroke-width="1.3" stroke-dasharray="4,2.5"/>
<path d="M305.5,403.1 L300.64,391.55 L304.6,394.75 L307.8,390.78 Z" fill="#ff40ff"/>
<polyline points="515.5,427.7 517.1,425 518.6,421.4 520.6,417.5 522.6,413.5 524.5,409.6 526.5,405.7 528.9,402.5 531.6,399.4 534.5,395.4 537.9,390.7 541.6,386 546.3,380.1 551.4,374.4 557.2,368.2 564.1,361.3 572,354.4 581.2,346.7 590.7,338.5 601.8,330.3 614.2,322.1 627.9,313.9 642.8,304.7 658.9,296.1 675,287.4" fill="none" stroke="#000" stroke-width="1" stroke-linejoin="round"/>
<circle cx="515.6" cy="427.2" r="2.2" fill="url(#rbs)"/>
<circle cx="515.8" cy="424.07" r="2.2" fill="url(#rbs)"/>
<circle cx="516" cy="420.95" r="2.2" fill="url(#rbs)"/>
<circle cx="516.2" cy="417.82" r="2.2" fill="url(#rbs)"/>
<circle cx="516.4" cy="414.7" r="2.2" fill="url(#rbs)"/>
<circle cx="516.6" cy="411.57" r="2.2" fill="url(#rbs)"/>
<circle cx="516.8" cy="408.45" r="2.2" fill="url(#rbs)"/>
<circle cx="517" cy="405.32" r="2.2" fill="url(#rbs)"/>
<circle cx="517.2" cy="402.2" r="2.2" fill="url(#rbs)"/>
<path d="M515.2,423.04 L518.4,428.8 L512,428.8 Z" fill="#1a1aff"/>
<path d="M516.3,418.04 L519.5,423.8 L513.1,423.8 Z" fill="#1a1aff"/>
<path d="M517.4,412.74 L520.6,418.5 L514.2,418.5 Z" fill="#1a1aff"/>
<path d="M518.6,407.04 L521.8,412.8 L515.4,412.8 Z" fill="#1a1aff"/>
<path d="M519.8,401.44 L523,407.2 L516.6,407.2 Z" fill="#1a1aff"/>
<path d="M521,395.54 L524.2,401.3 L517.8,401.3 Z" fill="#1a1aff"/>
<path d="M521.9,388.94 L525.1,394.7 L518.7,394.7 Z" fill="#1a1aff"/>
<path d="M523,382.04 L526.2,387.8 L519.8,387.8 Z" fill="#1a1aff"/>
<path d="M524.1,374.84 L527.3,380.6 L520.9,380.6 Z" fill="#1a1aff"/>
<rect x="512.65" y="424.85" width="5.7" height="5.7" fill="#000"/>
<rect x="514.25" y="422.15" width="5.7" height="5.7" fill="#000"/>
<rect x="515.75" y="418.55" width="5.7" height="5.7" fill="#000"/>
<rect x="517.75" y="414.65" width="5.7" height="5.7" fill="#000"/>
<rect x="519.75" y="410.65" width="5.7" height="5.7" fill="#000"/>
<rect x="521.65" y="406.75" width="5.7" height="5.7" fill="#000"/>
<rect x="523.65" y="402.85" width="5.7" height="5.7" fill="#000"/>
<rect x="526.05" y="399.65" width="5.7" height="5.7" fill="#000"/>
<rect x="528.75" y="396.55" width="5.7" height="5.7" fill="#000"/>
<rect x="531.65" y="392.55" width="5.7" height="5.7" fill="#000"/>
<rect x="535.05" y="387.85" width="5.7" height="5.7" fill="#000"/>
<rect x="538.75" y="383.15" width="5.7" height="5.7" fill="#000"/>
<rect x="543.45" y="377.25" width="5.7" height="5.7" fill="#000"/>
<rect x="548.55" y="371.55" width="5.7" height="5.7" fill="#000"/>
<rect x="554.35" y="365.35" width="5.7" height="5.7" fill="#000"/>
<rect x="561.25" y="358.45" width="5.7" height="5.7" fill="#000"/>
<rect x="569.15" y="351.55" width="5.7" height="5.7" fill="#000"/>
<rect x="578.35" y="343.85" width="5.7" height="5.7" fill="#000"/>
<rect x="587.85" y="335.65" width="5.7" height="5.7" fill="#000"/>
<rect x="598.95" y="327.45" width="5.7" height="5.7" fill="#000"/>
<rect x="611.35" y="319.25" width="5.7" height="5.7" fill="#000"/>
<rect x="625.05" y="311.05" width="5.7" height="5.7" fill="#000"/>
<rect x="639.95" y="301.85" width="5.7" height="5.7" fill="#000"/>
<rect x="656.05" y="293.25" width="5.7" height="5.7" fill="#000"/>
<line x1="515.9" y1="401" x2="535.5" y2="382.8" stroke="#ff40ff" stroke-width="1.3" stroke-dasharray="3.5,2.5"/>
<path d="M543.4,375.4 L537.34,386.5 L537.69,380.71 L531.89,380.65 Z" fill="#ff40ff"/>
<rect x="514.3" y="268.4" width="160.7" height="159.9" fill="none" stroke="#333" stroke-width="1.2"/>
<line x1="514.3" y1="428.3" x2="514.3" y2="431.3" stroke="#333" stroke-width="1.2"/>
<line x1="511.3" y1="428.3" x2="514.3" y2="428.3" stroke="#333" stroke-width="1.2"/>
<line x1="581.26" y1="428.3" x2="581.26" y2="431.3" stroke="#333" stroke-width="1.2"/>
<line x1="511.3" y1="361.68" x2="514.3" y2="361.68" stroke="#333" stroke-width="1.2"/>
<line x1="648.22" y1="428.3" x2="648.22" y2="431.3" stroke="#333" stroke-width="1.2"/>
<line x1="511.3" y1="295.05" x2="514.3" y2="295.05" stroke="#333" stroke-width="1.2"/>
<line x1="547.78" y1="428.3" x2="547.78" y2="429.8" stroke="#333" stroke-width="1.2"/>
<line x1="512.8" y1="394.99" x2="514.3" y2="394.99" stroke="#333" stroke-width="1.2"/>
<line x1="614.74" y1="428.3" x2="614.74" y2="429.8" stroke="#333" stroke-width="1.2"/>
<line x1="512.8" y1="328.36" x2="514.3" y2="328.36" stroke="#333" stroke-width="1.2"/>
<text x="514.3" y="446.6" font-size="16" text-anchor="middle" fill="#111">0</text>
<text x="508.3" y="434" font-size="16" text-anchor="end" fill="#111">0</text>
<text x="581.26" y="446.6" font-size="16" text-anchor="middle" fill="#111">50</text>
<text x="508.3" y="367.38" font-size="16" text-anchor="end" fill="#111">50</text>
<text x="648.22" y="446.6" font-size="16" text-anchor="middle" fill="#111">100</text>
<text x="508.3" y="300.75" font-size="16" text-anchor="end" fill="#111">100</text>
<text x="594.5" y="465.5" font-size="16" text-anchor="middle" fill="#111">Z' (Ω)</text>
<text x="479.5" y="348.3" font-size="16.3" text-anchor="middle" fill="#111" transform="rotate(-90 479.5 348.3)">−Z'' (Ω)</text>
<text x="518.7" y="281.5" font-size="16" text-anchor="start" fill="#111">(d)</text>
<rect x="606.2" y="339.4" width="68.8" height="68.3" fill="#fff"/>
<clipPath id="dclip"><rect x="606.2" y="336.4" width="69.3" height="71.3"/></clipPath>
<g clip-path="url(#dclip)">
<polyline points="630.5,406 633,404.2 635.8,402.1 638.5,400 641.3,398.2 644.1,396.6 646.2,394.5 647.3,391.7 648,388.3 648.3,384.1 648.9,379.7 649.4,374.7 649.6,368.6 650.1,361.2 650.1,352.2 650.1,342.5" fill="none" stroke="#ff2020" stroke-width="0.8" stroke-linejoin="round" stroke-dasharray="2,1.5"/>
<circle cx="630.5" cy="406" r="2.4" fill="url(#rbs)"/>
<circle cx="633" cy="404.2" r="2.4" fill="url(#rbs)"/>
<circle cx="635.8" cy="402.1" r="2.4" fill="url(#rbs)"/>
<circle cx="638.5" cy="400" r="2.4" fill="url(#rbs)"/>
<circle cx="641.3" cy="398.2" r="2.4" fill="url(#rbs)"/>
<circle cx="644.1" cy="396.6" r="2.4" fill="url(#rbs)"/>
<circle cx="646.2" cy="394.5" r="2.4" fill="url(#rbs)"/>
<circle cx="647.3" cy="391.7" r="2.4" fill="url(#rbs)"/>
<circle cx="648" cy="388.3" r="2.4" fill="url(#rbs)"/>
<circle cx="648.3" cy="384.1" r="2.4" fill="url(#rbs)"/>
<circle cx="648.9" cy="379.7" r="2.4" fill="url(#rbs)"/>
<circle cx="649.4" cy="374.7" r="2.4" fill="url(#rbs)"/>
<circle cx="649.6" cy="368.6" r="2.4" fill="url(#rbs)"/>
<circle cx="650.1" cy="361.2" r="2.4" fill="url(#rbs)"/>
<circle cx="650.1" cy="352.2" r="2.4" fill="url(#rbs)"/>
<circle cx="650.1" cy="342.5" r="2.4" fill="url(#rbs)"/>
<path d="M631.6,402.65 L634.7,408.23 L628.5,408.23 Z" fill="#1a1aff"/>
<path d="M633.7,402.1 L636.8,407.68 L630.6,407.68 Z" fill="#1a1aff"/>
<path d="M635.8,401.55 L638.9,407.13 L632.7,407.13 Z" fill="#1a1aff"/>
<path d="M637.85,401 L640.95,406.58 L634.75,406.58 Z" fill="#1a1aff"/>
<path d="M639.9,400.45 L643,406.03 L636.8,406.03 Z" fill="#1a1aff"/>
<path d="M642,399.75 L645.1,405.33 L638.9,405.33 Z" fill="#1a1aff"/>
<path d="M644.1,399.05 L647.2,404.63 L641,404.63 Z" fill="#1a1aff"/>
<path d="M646.2,397.85 L649.3,403.43 L643.1,403.43 Z" fill="#1a1aff"/>
<path d="M648.3,396.65 L651.4,402.23 L645.2,402.23 Z" fill="#1a1aff"/>
<path d="M650,394.95 L653.1,400.53 L646.9,400.53 Z" fill="#1a1aff"/>
<path d="M651.7,393.25 L654.8,398.83 L648.6,398.83 Z" fill="#1a1aff"/>
<path d="M653.45,391.15 L656.55,396.73 L650.35,396.73 Z" fill="#1a1aff"/>
<path d="M655.2,389.05 L658.3,394.63 L652.1,394.63 Z" fill="#1a1aff"/>
<path d="M656.95,387 L660.05,392.58 L653.85,392.58 Z" fill="#1a1aff"/>
<path d="M658.7,384.95 L661.8,390.53 L655.6,390.53 Z" fill="#1a1aff"/>
<path d="M660.4,382.15 L663.5,387.73 L657.3,387.73 Z" fill="#1a1aff"/>
<path d="M662.1,379.35 L665.2,384.93 L659,384.93 Z" fill="#1a1aff"/>
<path d="M663.85,375.9 L666.95,381.48 L660.75,381.48 Z" fill="#1a1aff"/>
<path d="M665.6,372.45 L668.7,378.03 L662.5,378.03 Z" fill="#1a1aff"/>
<path d="M667,368.25 L670.1,373.83 L663.9,373.83 Z" fill="#1a1aff"/>
<path d="M668.4,364.05 L671.5,369.63 L665.3,369.63 Z" fill="#1a1aff"/>
<path d="M669.4,359.2 L672.5,364.78 L666.3,364.78 Z" fill="#1a1aff"/>
<path d="M670.4,354.35 L673.5,359.93 L667.3,359.93 Z" fill="#1a1aff"/>
<path d="M671.1,350.2 L674.2,355.78 L668,355.78 Z" fill="#1a1aff"/>
<path d="M671.8,346.05 L674.9,351.63 L668.7,351.63 Z" fill="#1a1aff"/>
<path d="M672.5,341.9 L675.6,347.48 L669.4,347.48 Z" fill="#1a1aff"/>
<path d="M673.2,337.75 L676.3,343.33 L670.1,343.33 Z" fill="#1a1aff"/>
<rect x="649.1" y="404.4" width="5.2" height="5.2" fill="#000"/>
<rect x="650.5" y="399.5" width="5.2" height="5.2" fill="#000"/>
<rect x="652.6" y="394" width="5.2" height="5.2" fill="#000"/>
<rect x="654.7" y="388.4" width="5.2" height="5.2" fill="#000"/>
<rect x="656.7" y="382.9" width="5.2" height="5.2" fill="#000"/>
<rect x="658.8" y="377.3" width="5.2" height="5.2" fill="#000"/>
<rect x="660.9" y="372.5" width="5.2" height="5.2" fill="#000"/>
<rect x="663.4" y="367.6" width="5.2" height="5.2" fill="#000"/>
<rect x="666.2" y="361.4" width="5.2" height="5.2" fill="#000"/>
<rect x="669.2" y="354.4" width="5.2" height="5.2" fill="#000"/>
<rect x="671.9" y="347.9" width="5.2" height="5.2" fill="#000"/>
</g>
<rect x="606.2" y="339.4" width="68.8" height="68.3" fill="none" stroke="#333" stroke-width="1.1"/>
<line x1="606.2" y1="407.7" x2="606.2" y2="410.7" stroke="#333" stroke-width="1.2"/>
<line x1="603.2" y1="407.7" x2="606.2" y2="407.7" stroke="#333" stroke-width="1.2"/>
<line x1="652.07" y1="407.7" x2="652.07" y2="410.7" stroke="#333" stroke-width="1.2"/>
<line x1="603.2" y1="362.17" x2="606.2" y2="362.17" stroke="#333" stroke-width="1.2"/>
<line x1="629.13" y1="407.7" x2="629.13" y2="409.2" stroke="#333" stroke-width="1.2"/>
<line x1="604.7" y1="384.93" x2="606.2" y2="384.93" stroke="#333" stroke-width="1.2"/>
<text x="606.2" y="421.8" font-size="13.5" text-anchor="middle" fill="#111">0</text>
<text x="601" y="412.5" font-size="13.5" text-anchor="end" fill="#111">0</text>
<text x="652.07" y="421.8" font-size="13.5" text-anchor="middle" fill="#111">1</text>
<text x="601" y="366.97" font-size="13.5" text-anchor="end" fill="#111">1</text>
<polyline points="54.45,516.05 55.26,517.95 56.06,520.08 56.87,522.41 57.67,524.9 58.48,527.57 59.28,530.61 60.09,533.88 60.89,537.14 61.7,540.29 62.5,543.5 63.31,546.76 64.11,550.01 64.92,553.21 65.72,556.34 66.53,559.35 67.33,562.19 68.14,564.84 68.94,567.35 69.75,569.76 70.56,572.08 71.36,574.3 72.17,576.46 72.97,578.53 73.78,580.54 74.58,582.5 75.39,584.38 76.19,586.2 77,587.96 77.8,589.67 78.61,591.34 79.41,592.98 80.22,594.59 81.02,596.18 81.83,597.77 82.63,599.35 83.44,600.92 84.25,602.46 85.05,603.98 85.86,605.45 86.66,606.87 87.47,608.22 88.27,609.5 89.08,610.72 89.88,611.89 90.69,613.01 91.49,614.09 92.3,615.15 93.1,616.19 93.91,617.23 94.71,618.26 95.52,619.31 96.32,620.38 97.13,621.47 97.93,622.57 98.74,623.66 99.55,624.72 100.35,625.75 101.16,626.72 101.96,627.63 102.77,628.45 103.57,629.21 104.38,629.92 105.18,630.59 105.99,631.23 106.79,631.84 107.6,632.43 108.4,633.01 109.21,633.57 110.01,634.12 110.82,634.68 111.62,635.23 112.43,635.79 113.24,636.33 114.04,636.86 114.85,637.38 115.65,637.88 116.46,638.36 117.26,638.82 118.07,639.25 118.87,639.64 119.68,640.02 120.48,640.39 121.29,640.74 122.09,641.08 122.9,641.4 123.7,641.71 124.51,642.01 125.31,642.3 126.12,642.57 126.92,642.83 127.73,643.09 128.54,643.33 129.34,643.58 130.15,643.82 130.95,644.05 131.76,644.27 132.56,644.48 133.37,644.68 134.17,644.86 134.98,645.02 135.78,645.17 136.59,645.29 137.39,645.41 138.2,645.52 139,645.63 139.81,645.74 140.61,645.85 141.42,645.95 142.23,646.04 143.03,646.13 143.84,646.22 144.64,646.31 145.45,646.39 146.25,646.47 147.06,646.54 147.86,646.62 148.67,646.68 149.47,646.75 150.28,646.81 151.08,646.86 151.89,646.92 152.69,646.97 153.5,647.02 154.3,647.06 155.11,647.1 155.91,647.14 156.72,647.18 157.53,647.21 158.33,647.25 159.14,647.28 159.94,647.32 160.75,647.35 161.55,647.38 162.36,647.41 163.16,647.44 163.97,647.47 164.77,647.5 165.58,647.52 166.38,647.55 167.19,647.57 167.99,647.59 168.8,647.61 169.6,647.63 170.41,647.65 171.22,647.67 172.02,647.69 172.83,647.71 173.63,647.72 174.44,647.73 175.24,647.75 176.05,647.76 176.85,647.77 177.66,647.79 178.46,647.8 179.27,647.81 180.07,647.82 180.88,647.84 181.68,647.85 182.49,647.86 183.29,647.87 184.1,647.88 184.9,647.9 185.71,647.91 186.52,647.92 187.32,647.93 188.13,647.94 188.93,647.95 189.74,647.96 190.54,647.97 191.35,647.98 192.15,647.99 192.96,648 193.76,648.01 194.57,648.02 195.37,648.03 196.18,648.03 196.98,648.04 197.79,648.05 198.59,648.06 199.4,648.07 200.21,648.07 201.01,648.08 201.82,648.08 202.62,648.09 203.43,648.1 204.23,648.1 205.04,648.11 205.84,648.11 206.65,648.12 207.45,648.12 208.26,648.12 209.06,648.13 209.87,648.13 210.67,648.13 211.48,648.13 212.28,648.13 213.09,648.14 213.89,648.14 214.7,648.14" fill="none" stroke="#000" stroke-width="1" stroke-linejoin="round"/>
<rect x="52.05" y="513.65" width="4.8" height="4.8" fill="#000"/>
<rect x="55.39" y="522.88" width="4.8" height="4.8" fill="#000"/>
<rect x="58.73" y="535.66" width="4.8" height="4.8" fill="#000"/>
<rect x="62.07" y="549.02" width="4.8" height="4.8" fill="#000"/>
<rect x="65.4" y="561.37" width="4.8" height="4.8" fill="#000"/>
<rect x="68.74" y="571.31" width="4.8" height="4.8" fill="#000"/>
<rect x="72.08" y="579.86" width="4.8" height="4.8" fill="#000"/>
<rect x="75.42" y="587.31" width="4.8" height="4.8" fill="#000"/>
<rect x="78.76" y="594.05" width="4.8" height="4.8" fill="#000"/>
<rect x="82.1" y="600.54" width="4.8" height="4.8" fill="#000"/>
<rect x="85.44" y="606.42" width="4.8" height="4.8" fill="#000"/>
<rect x="88.77" y="611.26" width="4.8" height="4.8" fill="#000"/>
<rect x="92.11" y="615.6" width="4.8" height="4.8" fill="#000"/>
<rect x="95.45" y="620.05" width="4.8" height="4.8" fill="#000"/>
<rect x="98.79" y="624.36" width="4.8" height="4.8" fill="#000"/>
<rect x="102.13" y="627.64" width="4.8" height="4.8" fill="#000"/>
<rect x="105.47" y="630.23" width="4.8" height="4.8" fill="#000"/>
<rect x="108.81" y="632.55" width="4.8" height="4.8" fill="#000"/>
<rect x="112.14" y="634.79" width="4.8" height="4.8" fill="#000"/>
<rect x="115.48" y="636.75" width="4.8" height="4.8" fill="#000"/>
<rect x="118.82" y="638.31" width="4.8" height="4.8" fill="#000"/>
<rect x="122.16" y="639.63" width="4.8" height="4.8" fill="#000"/>
<rect x="125.5" y="640.74" width="4.8" height="4.8" fill="#000"/>
<rect x="128.84" y="641.73" width="4.8" height="4.8" fill="#000"/>
<rect x="132.17" y="642.55" width="4.8" height="4.8" fill="#000"/>
<rect x="135.51" y="643.08" width="4.8" height="4.8" fill="#000"/>
<rect x="138.85" y="643.52" width="4.8" height="4.8" fill="#000"/>
<rect x="142.19" y="643.9" width="4.8" height="4.8" fill="#000"/>
<rect x="145.53" y="644.22" width="4.8" height="4.8" fill="#000"/>
<rect x="148.87" y="644.48" width="4.8" height="4.8" fill="#000"/>
<rect x="152.21" y="644.67" width="4.8" height="4.8" fill="#000"/>
<rect x="155.54" y="644.83" width="4.8" height="4.8" fill="#000"/>
<rect x="158.88" y="644.97" width="4.8" height="4.8" fill="#000"/>
<rect x="162.22" y="645.09" width="4.8" height="4.8" fill="#000"/>
<rect x="165.56" y="645.19" width="4.8" height="4.8" fill="#000"/>
<rect x="168.9" y="645.27" width="4.8" height="4.8" fill="#000"/>
<rect x="172.24" y="645.34" width="4.8" height="4.8" fill="#000"/>
<rect x="175.58" y="645.39" width="4.8" height="4.8" fill="#000"/>
<rect x="178.91" y="645.44" width="4.8" height="4.8" fill="#000"/>
<rect x="182.25" y="645.49" width="4.8" height="4.8" fill="#000"/>
<rect x="185.59" y="645.54" width="4.8" height="4.8" fill="#000"/>
<rect x="188.93" y="645.58" width="4.8" height="4.8" fill="#000"/>
<rect x="192.27" y="645.62" width="4.8" height="4.8" fill="#000"/>
<rect x="195.61" y="645.65" width="4.8" height="4.8" fill="#000"/>
<rect x="198.95" y="645.68" width="4.8" height="4.8" fill="#000"/>
<rect x="202.28" y="645.7" width="4.8" height="4.8" fill="#000"/>
<rect x="205.62" y="645.72" width="4.8" height="4.8" fill="#000"/>
<rect x="208.96" y="645.73" width="4.8" height="4.8" fill="#000"/>
<rect x="212.3" y="645.74" width="4.8" height="4.8" fill="#000"/>
<polyline points="54.45,595.04 55.26,593.82 56.06,592.52 56.87,591.21 57.67,589.88 58.48,588.54 59.28,587.17 60.09,585.78 60.89,584.35 61.7,582.88 62.5,581.37 63.31,579.81 64.11,578.2 64.92,576.54 65.72,574.79 66.53,572.92 67.33,570.94 68.14,568.87 68.94,566.73 69.75,564.55 70.56,562.33 71.36,560.1 72.17,557.87 72.97,555.67 73.78,553.51 74.58,551.42 75.39,549.35 76.19,547.2 77,544.99 77.8,542.75 78.61,540.51 79.41,538.3 80.22,536.13 81.02,534.05 81.83,532.08 82.63,530.25 83.44,528.58 84.25,527.1 85.05,525.84 85.86,524.66 86.66,523.47 87.47,522.3 88.27,521.17 89.08,520.09 89.88,519.1 90.69,518.21 91.49,517.45 92.3,516.83 93.1,516.38 93.91,516.11 94.71,516.06 95.52,516.18 96.32,516.47 97.13,516.9 97.93,517.45 98.74,518.12 99.55,518.9 100.35,519.75 101.16,520.68 101.96,521.67 102.77,522.7 103.57,523.75 104.38,524.82 105.18,525.98 105.99,527.4 106.79,529.07 107.6,530.94 108.4,532.98 109.21,535.17 110.01,537.47 110.82,539.84 111.62,542.25 112.43,544.67 113.24,547.06 114.04,549.4 114.85,551.64 115.65,553.89 116.46,556.2 117.26,558.55 118.07,560.95 118.87,563.36 119.68,565.79 120.48,568.2 121.29,570.6 122.09,572.97 122.9,575.29 123.7,577.55 124.51,579.74 125.31,581.87 126.12,583.99 126.92,586.11 127.73,588.2 128.54,590.28 129.34,592.32 130.15,594.33 130.95,596.29 131.76,598.2 132.56,600.05 133.37,601.84 134.17,603.55 134.98,605.19 135.78,606.75 136.59,608.27 137.39,609.75 138.2,611.18 139,612.58 139.81,613.94 140.61,615.25 141.42,616.52 142.23,617.74 143.03,618.92 143.84,620.06 144.64,621.15 145.45,622.2 146.25,623.24 147.06,624.25 147.86,625.24 148.67,626.2 149.47,627.13 150.28,628.03 151.08,628.9 151.89,629.74 152.69,630.53 153.5,631.29 154.3,632 155.11,632.67 155.91,633.29 156.72,633.91 157.53,634.5 158.33,635.08 159.14,635.64 159.94,636.18 160.75,636.7 161.55,637.18 162.36,637.64 163.16,638.07 163.97,638.46 164.77,638.82 165.58,639.14 166.38,639.42 167.19,639.7 167.99,639.96 168.8,640.21 169.6,640.45 170.41,640.69 171.22,640.91 172.02,641.13 172.83,641.33 173.63,641.53 174.44,641.72 175.24,641.9 176.05,642.08 176.85,642.24 177.66,642.4 178.46,642.55 179.27,642.7 180.07,642.83 180.88,642.96 181.68,643.09 182.49,643.2 183.29,643.31 184.1,643.42 184.9,643.53 185.71,643.63 186.52,643.73 187.32,643.82 188.13,643.91 188.93,644 189.74,644.09 190.54,644.17 191.35,644.25 192.15,644.33 192.96,644.4 193.76,644.47 194.57,644.53 195.37,644.6 196.18,644.66 196.98,644.71 197.79,644.76 198.59,644.81 199.4,644.86 200.21,644.91 201.01,644.95 201.82,645 202.62,645.04 203.43,645.08 204.23,645.12 205.04,645.16 205.84,645.2 206.65,645.24 207.45,645.27 208.26,645.31 209.06,645.34 209.87,645.37 210.67,645.39 211.48,645.42 212.28,645.44 213.09,645.45 213.89,645.47 214.7,645.48" fill="none" stroke="#1a1aff" stroke-width="1" stroke-linejoin="round"/>
<path d="M54.45,591.58 L57.65,597.34 L51.25,597.34 Z" fill="#1a1aff"/>
<path d="M57.79,586.23 L60.99,591.99 L54.59,591.99 Z" fill="#1a1aff"/>
<path d="M61.13,580.47 L64.33,586.23 L57.93,586.23 Z" fill="#1a1aff"/>
<path d="M64.47,574.03 L67.67,579.79 L61.27,579.79 Z" fill="#1a1aff"/>
<path d="M67.8,566.28 L71,572.04 L64.6,572.04 Z" fill="#1a1aff"/>
<path d="M71.14,557.24 L74.34,563 L67.94,563 Z" fill="#1a1aff"/>
<path d="M74.48,548.22 L77.68,553.98 L71.28,553.98 Z" fill="#1a1aff"/>
<path d="M77.82,539.25 L81.02,545.01 L74.62,545.01 Z" fill="#1a1aff"/>
<path d="M81.16,530.26 L84.36,536.02 L77.96,536.02 Z" fill="#1a1aff"/>
<path d="M84.5,523.23 L87.7,528.99 L81.3,528.99 Z" fill="#1a1aff"/>
<path d="M87.84,518.32 L91.04,524.08 L84.64,524.08 Z" fill="#1a1aff"/>
<path d="M91.17,514.28 L94.37,520.04 L87.97,520.04 Z" fill="#1a1aff"/>
<path d="M94.51,512.59 L97.71,518.35 L91.31,518.35 Z" fill="#1a1aff"/>
<path d="M97.85,513.93 L101.05,519.69 L94.65,519.69 Z" fill="#1a1aff"/>
<path d="M101.19,517.27 L104.39,523.03 L97.99,523.03 Z" fill="#1a1aff"/>
<path d="M104.53,521.57 L107.73,527.33 L101.33,527.33 Z" fill="#1a1aff"/>
<path d="M107.87,528.15 L111.07,533.91 L104.67,533.91 Z" fill="#1a1aff"/>
<path d="M111.21,537.53 L114.41,543.29 L108.01,543.29 Z" fill="#1a1aff"/>
<path d="M114.54,547.35 L117.74,553.11 L111.34,553.11 Z" fill="#1a1aff"/>
<path d="M117.88,556.94 L121.08,562.7 L114.68,562.7 Z" fill="#1a1aff"/>
<path d="M121.22,566.95 L124.42,572.71 L118.02,572.71 Z" fill="#1a1aff"/>
<path d="M124.56,576.42 L127.76,582.18 L121.36,582.18 Z" fill="#1a1aff"/>
<path d="M127.9,585.18 L131.1,590.94 L124.7,590.94 Z" fill="#1a1aff"/>
<path d="M131.24,593.52 L134.44,599.28 L128.04,599.28 Z" fill="#1a1aff"/>
<path d="M134.57,600.93 L137.77,606.69 L131.37,606.69 Z" fill="#1a1aff"/>
<path d="M137.91,607.22 L141.11,612.98 L134.71,612.98 Z" fill="#1a1aff"/>
<path d="M141.25,612.8 L144.45,618.56 L138.05,618.56 Z" fill="#1a1aff"/>
<path d="M144.59,617.63 L147.79,623.39 L141.39,623.39 Z" fill="#1a1aff"/>
<path d="M147.93,621.86 L151.13,627.62 L144.73,627.62 Z" fill="#1a1aff"/>
<path d="M151.27,625.64 L154.47,631.4 L148.07,631.4 Z" fill="#1a1aff"/>
<path d="M154.61,628.8 L157.81,634.56 L151.41,634.56 Z" fill="#1a1aff"/>
<path d="M157.94,631.35 L161.14,637.11 L154.74,637.11 Z" fill="#1a1aff"/>
<path d="M161.28,633.57 L164.48,639.33 L158.08,639.33 Z" fill="#1a1aff"/>
<path d="M164.62,635.3 L167.82,641.06 L161.42,641.06 Z" fill="#1a1aff"/>
<path d="M167.96,636.49 L171.16,642.25 L164.76,642.25 Z" fill="#1a1aff"/>
<path d="M171.3,637.48 L174.5,643.24 L168.1,643.24 Z" fill="#1a1aff"/>
<path d="M174.64,638.31 L177.84,644.07 L171.44,644.07 Z" fill="#1a1aff"/>
<path d="M177.98,639.01 L181.18,644.77 L174.78,644.77 Z" fill="#1a1aff"/>
<path d="M181.31,639.57 L184.51,645.33 L178.11,645.33 Z" fill="#1a1aff"/>
<path d="M184.65,640.04 L187.85,645.8 L181.45,645.8 Z" fill="#1a1aff"/>
<path d="M187.99,640.44 L191.19,646.2 L184.79,646.2 Z" fill="#1a1aff"/>
<path d="M191.33,640.79 L194.53,646.55 L188.13,646.55 Z" fill="#1a1aff"/>
<path d="M194.67,641.09 L197.87,646.85 L191.47,646.85 Z" fill="#1a1aff"/>
<path d="M198.01,641.32 L201.21,647.08 L194.81,647.08 Z" fill="#1a1aff"/>
<path d="M201.35,641.51 L204.55,647.27 L198.15,647.27 Z" fill="#1a1aff"/>
<path d="M204.68,641.69 L207.88,647.45 L201.48,647.45 Z" fill="#1a1aff"/>
<path d="M208.02,641.84 L211.22,647.6 L204.82,647.6 Z" fill="#1a1aff"/>
<path d="M211.36,641.96 L214.56,647.72 L208.16,647.72 Z" fill="#1a1aff"/>
<path d="M214.7,642.03 L217.9,647.79 L211.5,647.79 Z" fill="#1a1aff"/>
<polyline points="54.45,618.93 55.26,617.86 56.06,616.8 56.87,615.79 57.67,614.8 58.48,613.83 59.28,612.88 60.09,611.94 60.89,611 61.7,610.05 62.5,609.1 63.31,608.13 64.11,607.14 64.92,606.12 65.72,605.07 66.53,603.97 67.33,602.82 68.14,601.62 68.94,600.39 69.75,599.12 70.56,597.82 71.36,596.48 72.17,595.09 72.97,593.66 73.78,592.19 74.58,590.66 75.39,589.08 76.19,587.44 77,585.74 77.8,583.98 78.61,582.14 79.41,580.14 80.22,577.95 81.02,575.61 81.83,573.18 82.63,570.69 83.44,568.19 84.25,565.74 85.05,563.35 85.86,560.93 86.66,558.47 87.47,555.98 88.27,553.48 89.08,550.98 89.88,548.48 90.69,546.01 91.49,543.58 92.3,541.19 93.1,538.87 93.91,536.62 94.71,534.44 95.52,532.24 96.32,529.99 97.13,527.78 97.93,525.69 98.74,523.82 99.55,522.25 100.35,521.05 101.16,519.95 101.96,518.89 102.77,517.92 103.57,517.11 104.38,516.49 105.18,516.13 105.99,516.07 106.79,516.34 107.6,516.9 108.4,517.67 109.21,518.6 110.01,519.63 110.82,520.69 111.62,521.74 112.43,522.93 113.24,524.3 114.04,525.82 114.85,527.46 115.65,529.21 116.46,531.04 117.26,532.93 118.07,534.85 118.87,536.9 119.68,539.12 120.48,541.49 121.29,543.98 122.09,546.57 122.9,549.25 123.7,551.99 124.51,554.78 125.31,557.59 126.12,560.41 126.92,563.22 127.73,565.99 128.54,568.71 129.34,571.35 130.15,573.9 130.95,576.34 131.76,578.65 132.56,580.88 133.37,583.12 134.17,585.35 134.98,587.56 135.78,589.74 136.59,591.91 137.39,594.03 138.2,596.12 139,598.15 139.81,600.14 140.61,602.06 141.42,603.92 142.23,605.7 143.03,607.4 143.84,609.02 144.64,610.55 145.45,611.99 146.25,613.39 147.06,614.76 147.86,616.09 148.67,617.38 149.47,618.63 150.28,619.85 151.08,621.04 151.89,622.19 152.69,623.3 153.5,624.38 154.3,625.42 155.11,626.43 155.91,627.41 156.72,628.36 157.53,629.27 158.33,630.15 159.14,631 159.94,631.84 160.75,632.68 161.55,633.49 162.36,634.27 163.16,635.01 163.97,635.7 164.77,636.33 165.58,636.88 166.38,637.34 167.19,637.72 167.99,638.07 168.8,638.4 169.6,638.72 170.41,639.02 171.22,639.31 172.02,639.58 172.83,639.83 173.63,640.08 174.44,640.31 175.24,640.53 176.05,640.74 176.85,640.94 177.66,641.13 178.46,641.31 179.27,641.48 180.07,641.65 180.88,641.82 181.68,641.98 182.49,642.13 183.29,642.28 184.1,642.43 184.9,642.58 185.71,642.72 186.52,642.86 187.32,642.99 188.13,643.12 188.93,643.25 189.74,643.37 190.54,643.49 191.35,643.6 192.15,643.71 192.96,643.82 193.76,643.92 194.57,644.01 195.37,644.1 196.18,644.19 196.98,644.27 197.79,644.34 198.59,644.41 199.4,644.48 200.21,644.54 201.01,644.61 201.82,644.67 202.62,644.73 203.43,644.79 204.23,644.85 205.04,644.91 205.84,644.96 206.65,645.01 207.45,645.06 208.26,645.11 209.06,645.15 209.87,645.19 210.67,645.23 211.48,645.26 212.28,645.29 213.09,645.31 213.89,645.33 214.7,645.35" fill="none" stroke="#ff1a1a" stroke-width="1" stroke-linejoin="round"/>
<circle cx="54.45" cy="618.93" r="2.7" fill="url(#rb)"/>
<circle cx="57.79" cy="614.65" r="2.7" fill="url(#rb)"/>
<circle cx="61.13" cy="610.72" r="2.7" fill="url(#rb)"/>
<circle cx="64.47" cy="606.7" r="2.7" fill="url(#rb)"/>
<circle cx="67.8" cy="602.12" r="2.7" fill="url(#rb)"/>
<circle cx="71.14" cy="596.84" r="2.7" fill="url(#rb)"/>
<circle cx="74.48" cy="590.85" r="2.7" fill="url(#rb)"/>
<circle cx="77.82" cy="583.94" r="2.7" fill="url(#rb)"/>
<circle cx="81.16" cy="575.21" r="2.7" fill="url(#rb)"/>
<circle cx="84.5" cy="564.99" r="2.7" fill="url(#rb)"/>
<circle cx="87.84" cy="554.83" r="2.7" fill="url(#rb)"/>
<circle cx="91.17" cy="544.54" r="2.7" fill="url(#rb)"/>
<circle cx="94.51" cy="534.98" r="2.7" fill="url(#rb)"/>
<circle cx="97.85" cy="525.9" r="2.7" fill="url(#rb)"/>
<circle cx="101.19" cy="519.9" r="2.7" fill="url(#rb)"/>
<circle cx="104.53" cy="516.4" r="2.7" fill="url(#rb)"/>
<circle cx="107.87" cy="517.13" r="2.7" fill="url(#rb)"/>
<circle cx="111.21" cy="521.19" r="2.7" fill="url(#rb)"/>
<circle cx="114.54" cy="526.83" r="2.7" fill="url(#rb)"/>
<circle cx="117.88" cy="534.4" r="2.7" fill="url(#rb)"/>
<circle cx="121.22" cy="543.77" r="2.7" fill="url(#rb)"/>
<circle cx="124.56" cy="554.96" r="2.7" fill="url(#rb)"/>
<circle cx="127.9" cy="566.56" r="2.7" fill="url(#rb)"/>
<circle cx="131.24" cy="577.18" r="2.7" fill="url(#rb)"/>
<circle cx="134.57" cy="586.45" r="2.7" fill="url(#rb)"/>
<circle cx="137.91" cy="595.38" r="2.7" fill="url(#rb)"/>
<circle cx="141.25" cy="603.54" r="2.7" fill="url(#rb)"/>
<circle cx="144.59" cy="610.46" r="2.7" fill="url(#rb)"/>
<circle cx="147.93" cy="616.2" r="2.7" fill="url(#rb)"/>
<circle cx="151.27" cy="621.3" r="2.7" fill="url(#rb)"/>
<circle cx="154.61" cy="625.81" r="2.7" fill="url(#rb)"/>
<circle cx="157.94" cy="629.73" r="2.7" fill="url(#rb)"/>
<circle cx="161.28" cy="633.22" r="2.7" fill="url(#rb)"/>
<circle cx="164.62" cy="636.21" r="2.7" fill="url(#rb)"/>
<circle cx="167.96" cy="638.06" r="2.7" fill="url(#rb)"/>
<circle cx="171.3" cy="639.34" r="2.7" fill="url(#rb)"/>
<circle cx="174.64" cy="640.36" r="2.7" fill="url(#rb)"/>
<circle cx="177.98" cy="641.2" r="2.7" fill="url(#rb)"/>
<circle cx="181.31" cy="641.9" r="2.7" fill="url(#rb)"/>
<circle cx="184.65" cy="642.53" r="2.7" fill="url(#rb)"/>
<circle cx="187.99" cy="643.1" r="2.7" fill="url(#rb)"/>
<circle cx="191.33" cy="643.6" r="2.7" fill="url(#rb)"/>
<circle cx="194.67" cy="644.02" r="2.7" fill="url(#rb)"/>
<circle cx="198.01" cy="644.36" r="2.7" fill="url(#rb)"/>
<circle cx="201.35" cy="644.63" r="2.7" fill="url(#rb)"/>
<circle cx="204.68" cy="644.88" r="2.7" fill="url(#rb)"/>
<circle cx="208.02" cy="645.09" r="2.7" fill="url(#rb)"/>
<circle cx="211.36" cy="645.25" r="2.7" fill="url(#rb)"/>
<circle cx="214.7" cy="645.35" r="2.7" fill="url(#rb)"/>
<rect x="54.45" y="489.5" width="160.25" height="159.3" fill="none" stroke="#333" stroke-width="1.2"/>
<line x1="54.45" y1="648.8" x2="54.45" y2="651.8" stroke="#333" stroke-width="1.2"/>
<line x1="66.51" y1="648.8" x2="66.51" y2="650.3" stroke="#333" stroke-width="1.2"/>
<line x1="73.56" y1="648.8" x2="73.56" y2="650.3" stroke="#333" stroke-width="1.2"/>
<line x1="78.57" y1="648.8" x2="78.57" y2="650.3" stroke="#333" stroke-width="1.2"/>
<line x1="82.45" y1="648.8" x2="82.45" y2="650.3" stroke="#333" stroke-width="1.2"/>
<line x1="85.62" y1="648.8" x2="85.62" y2="650.3" stroke="#333" stroke-width="1.2"/>
<line x1="88.31" y1="648.8" x2="88.31" y2="650.3" stroke="#333" stroke-width="1.2"/>
<line x1="90.63" y1="648.8" x2="90.63" y2="650.3" stroke="#333" stroke-width="1.2"/>
<line x1="92.68" y1="648.8" x2="92.68" y2="650.3" stroke="#333" stroke-width="1.2"/>
<line x1="94.51" y1="648.8" x2="94.51" y2="651.8" stroke="#333" stroke-width="1.2"/>
<line x1="106.57" y1="648.8" x2="106.57" y2="650.3" stroke="#333" stroke-width="1.2"/>
<line x1="113.63" y1="648.8" x2="113.63" y2="650.3" stroke="#333" stroke-width="1.2"/>
<line x1="118.63" y1="648.8" x2="118.63" y2="650.3" stroke="#333" stroke-width="1.2"/>
<line x1="122.51" y1="648.8" x2="122.51" y2="650.3" stroke="#333" stroke-width="1.2"/>
<line x1="125.69" y1="648.8" x2="125.69" y2="650.3" stroke="#333" stroke-width="1.2"/>
<line x1="128.37" y1="648.8" x2="128.37" y2="650.3" stroke="#333" stroke-width="1.2"/>
<line x1="130.69" y1="648.8" x2="130.69" y2="650.3" stroke="#333" stroke-width="1.2"/>
<line x1="132.74" y1="648.8" x2="132.74" y2="650.3" stroke="#333" stroke-width="1.2"/>
<line x1="134.57" y1="648.8" x2="134.57" y2="651.8" stroke="#333" stroke-width="1.2"/>
<line x1="146.64" y1="648.8" x2="146.64" y2="650.3" stroke="#333" stroke-width="1.2"/>
<line x1="153.69" y1="648.8" x2="153.69" y2="650.3" stroke="#333" stroke-width="1.2"/>
<line x1="158.7" y1="648.8" x2="158.7" y2="650.3" stroke="#333" stroke-width="1.2"/>
<line x1="162.58" y1="648.8" x2="162.58" y2="650.3" stroke="#333" stroke-width="1.2"/>
<line x1="165.75" y1="648.8" x2="165.75" y2="650.3" stroke="#333" stroke-width="1.2"/>
<line x1="168.43" y1="648.8" x2="168.43" y2="650.3" stroke="#333" stroke-width="1.2"/>
<line x1="170.76" y1="648.8" x2="170.76" y2="650.3" stroke="#333" stroke-width="1.2"/>
<line x1="172.8" y1="648.8" x2="172.8" y2="650.3" stroke="#333" stroke-width="1.2"/>
<line x1="174.64" y1="648.8" x2="174.64" y2="651.8" stroke="#333" stroke-width="1.2"/>
<line x1="186.7" y1="648.8" x2="186.7" y2="650.3" stroke="#333" stroke-width="1.2"/>
<line x1="193.75" y1="648.8" x2="193.75" y2="650.3" stroke="#333" stroke-width="1.2"/>
<line x1="198.76" y1="648.8" x2="198.76" y2="650.3" stroke="#333" stroke-width="1.2"/>
<line x1="202.64" y1="648.8" x2="202.64" y2="650.3" stroke="#333" stroke-width="1.2"/>
<line x1="205.81" y1="648.8" x2="205.81" y2="650.3" stroke="#333" stroke-width="1.2"/>
<line x1="208.49" y1="648.8" x2="208.49" y2="650.3" stroke="#333" stroke-width="1.2"/>
<line x1="210.82" y1="648.8" x2="210.82" y2="650.3" stroke="#333" stroke-width="1.2"/>
<line x1="212.87" y1="648.8" x2="212.87" y2="650.3" stroke="#333" stroke-width="1.2"/>
<line x1="214.7" y1="648.8" x2="214.7" y2="651.8" stroke="#333" stroke-width="1.2"/>
<line x1="51.45" y1="648.8" x2="54.45" y2="648.8" stroke="#333" stroke-width="1.2"/>
<line x1="52.95" y1="615.61" x2="54.45" y2="615.61" stroke="#333" stroke-width="1.2"/>
<line x1="51.45" y1="582.42" x2="54.45" y2="582.42" stroke="#333" stroke-width="1.2"/>
<line x1="52.95" y1="549.24" x2="54.45" y2="549.24" stroke="#333" stroke-width="1.2"/>
<line x1="51.45" y1="516.05" x2="54.45" y2="516.05" stroke="#333" stroke-width="1.2"/>
<text x="54.45" y="668.9" font-size="16" text-anchor="middle" fill="#111">0.01</text>
<text x="94.51" y="668.9" font-size="16" text-anchor="middle" fill="#111">0.1</text>
<text x="134.57" y="668.9" font-size="16" text-anchor="middle" fill="#111">1</text>
<text x="174.64" y="668.9" font-size="16" text-anchor="middle" fill="#111">10</text>
<text x="214.7" y="668.9" font-size="16" text-anchor="middle" fill="#111">100</text>
<text x="49.45" y="654.5" font-size="16" text-anchor="end" fill="#111">0.0</text>
<text x="49.45" y="588.12" font-size="16" text-anchor="end" fill="#111">0.5</text>
<text x="49.45" y="521.75" font-size="16" text-anchor="end" fill="#111">1.0</text>
<text x="134.57" y="688.2" font-size="16" text-anchor="middle" fill="#111">Frequency (Hz)</text>
<text x="16.5" y="569.5" font-size="16.3" text-anchor="middle" fill="#111" transform="rotate(-90 16.5 569.5)">Normalized <tspan font-style="italic">C</tspan>''</text>
<text x="56.65" y="504.2" font-size="16" text-anchor="start" fill="#111">(e)</text>
<line x1="67" y1="512.1" x2="104" y2="512.1" stroke="#ff40ff" stroke-width="1.2" stroke-dasharray="3.5,2.5"/>
<path d="M56.8,512.1 L69.2,508.7 L64.49,512.1 L69.2,515.5 Z" fill="#ff40ff"/>
<polyline points="286.6,519.05 287.41,519.33 288.21,519.65 289.02,520.01 289.82,520.39 290.63,520.82 291.43,521.29 292.24,521.83 293.04,522.47 293.85,523.2 294.66,523.96 295.46,524.72 296.27,525.48 297.07,526.25 297.88,527.04 298.68,527.88 299.49,528.76 300.29,529.7 301.1,530.67 301.91,531.66 302.71,532.62 303.52,533.56 304.32,534.51 305.13,535.48 305.93,536.53 306.74,537.66 307.54,538.88 308.35,540.14 309.15,541.43 309.96,542.74 310.77,544.05 311.57,545.41 312.38,546.86 313.18,548.42 313.99,550.13 314.79,551.97 315.6,553.87 316.4,555.8 317.21,557.77 318.02,559.81 318.82,561.88 319.63,563.93 320.43,565.93 321.24,567.91 322.04,569.87 322.85,571.85 323.65,573.84 324.46,575.87 325.27,577.91 326.07,579.95 326.88,581.98 327.68,583.99 328.49,586 329.29,588 330.1,590.01 330.9,592.04 331.71,594.1 332.52,596.17 333.32,598.19 334.13,600.13 334.93,602 335.74,603.8 336.54,605.59 337.35,607.38 338.15,609.21 338.96,611.08 339.76,612.91 340.57,614.64 341.38,616.22 342.18,617.68 342.99,619.06 343.79,620.43 344.6,621.82 345.4,623.25 346.21,624.7 347.01,626.11 347.82,627.44 348.63,628.66 349.43,629.82 350.24,630.94 351.04,632.03 351.85,633.14 352.65,634.27 353.46,635.38 354.26,636.44 355.07,637.41 355.88,638.34 356.68,639.25 357.49,640.11 358.29,640.86 359.1,641.49 359.9,641.98 360.71,642.44 361.51,642.88 362.32,643.3 363.13,643.7 363.93,644.08 364.74,644.44 365.54,644.78 366.35,645.11 367.15,645.42 367.96,645.71 368.76,645.98 369.57,646.25 370.37,646.49 371.18,646.73 371.99,646.95 372.79,647.16 373.6,647.36 374.4,647.55 375.21,647.74 376.01,647.91 376.82,648.09 377.62,648.26 378.43,648.42 379.24,648.58 380.04,648.74 380.85,648.89 381.65,649.03 382.46,649.17 383.26,649.3 384.07,649.42 384.87,649.54 385.68,649.65 386.49,649.76 387.29,649.85 388.1,649.94 388.9,650.02 389.71,650.09 390.51,650.15 391.32,650.2 392.12,650.25 392.93,650.31 393.74,650.36 394.54,650.4 395.35,650.45 396.15,650.5 396.96,650.54 397.76,650.58 398.57,650.62 399.37,650.66 400.18,650.69 400.98,650.72 401.79,650.75 402.6,650.77 403.4,650.79 404.21,650.81 405.01,650.82 405.82,650.83 406.62,650.83 407.43,650.83 408.23,650.83 409.04,650.83 409.85,650.83 410.65,650.83 411.46,650.83 412.26,650.83 413.07,650.83 413.87,650.83 414.68,650.83 415.48,650.83 416.29,650.83 417.1,650.83 417.9,650.83 418.71,650.83 419.51,650.83 420.32,650.83 421.12,650.83 421.93,650.83 422.73,650.83 423.54,650.82 424.35,650.82 425.15,650.82 425.96,650.82 426.76,650.82 427.57,650.82 428.37,650.81 429.18,650.81 429.98,650.81 430.79,650.81 431.59,650.8 432.4,650.8 433.21,650.8 434.01,650.79 434.82,650.79 435.62,650.78 436.43,650.78 437.23,650.78 438.04,650.77 438.84,650.77 439.65,650.76 440.46,650.76 441.26,650.75 442.07,650.74 442.87,650.74 443.68,650.73 444.48,650.72 445.29,650.72 446.09,650.71 446.9,650.7" fill="none" stroke="#1a1aff" stroke-width="1" stroke-linejoin="round"/>
<path d="M286.6,515.59 L289.8,521.35 L283.4,521.35 Z" fill="#1a1aff"/>
<path d="M289.94,517 L293.14,522.76 L286.74,522.76 Z" fill="#1a1aff"/>
<path d="M293.28,519.22 L296.48,524.98 L290.08,524.98 Z" fill="#1a1aff"/>
<path d="M296.62,522.36 L299.82,528.12 L293.42,528.12 Z" fill="#1a1aff"/>
<path d="M299.96,525.85 L303.16,531.61 L296.76,531.61 Z" fill="#1a1aff"/>
<path d="M303.3,529.85 L306.5,535.61 L300.1,535.61 Z" fill="#1a1aff"/>
<path d="M306.64,534.06 L309.84,539.82 L303.44,539.82 Z" fill="#1a1aff"/>
<path d="M309.98,539.31 L313.18,545.07 L306.78,545.07 Z" fill="#1a1aff"/>
<path d="M313.32,545.24 L316.52,551 L310.12,551 Z" fill="#1a1aff"/>
<path d="M316.66,552.95 L319.86,558.71 L313.46,558.71 Z" fill="#1a1aff"/>
<path d="M320,561.4 L323.2,567.16 L316.8,567.16 Z" fill="#1a1aff"/>
<path d="M323.34,569.59 L326.54,575.35 L320.14,575.35 Z" fill="#1a1aff"/>
<path d="M326.67,578.02 L329.87,583.78 L323.47,583.78 Z" fill="#1a1aff"/>
<path d="M330.01,586.35 L333.21,592.11 L326.81,592.11 Z" fill="#1a1aff"/>
<path d="M333.35,594.82 L336.55,600.58 L330.15,600.58 Z" fill="#1a1aff"/>
<path d="M336.69,602.47 L339.89,608.23 L333.49,608.23 Z" fill="#1a1aff"/>
<path d="M340.03,610.04 L343.23,615.8 L336.83,615.8 Z" fill="#1a1aff"/>
<path d="M343.37,616.26 L346.57,622.02 L340.17,622.02 Z" fill="#1a1aff"/>
<path d="M346.71,622.13 L349.91,627.89 L343.51,627.89 Z" fill="#1a1aff"/>
<path d="M350.05,627.23 L353.25,632.99 L346.85,632.99 Z" fill="#1a1aff"/>
<path d="M353.39,631.84 L356.59,637.6 L350.19,637.6 Z" fill="#1a1aff"/>
<path d="M356.73,635.85 L359.93,641.61 L353.53,641.61 Z" fill="#1a1aff"/>
<path d="M360.07,638.62 L363.27,644.38 L356.87,644.38 Z" fill="#1a1aff"/>
<path d="M363.41,640.38 L366.61,646.14 L360.21,646.14 Z" fill="#1a1aff"/>
<path d="M366.75,641.81 L369.95,647.57 L363.55,647.57 Z" fill="#1a1aff"/>
<path d="M370.09,642.95 L373.29,648.71 L366.89,648.71 Z" fill="#1a1aff"/>
<path d="M373.43,643.87 L376.63,649.63 L370.23,649.63 Z" fill="#1a1aff"/>
<path d="M376.77,644.62 L379.97,650.38 L373.57,650.38 Z" fill="#1a1aff"/>
<path d="M380.11,645.29 L383.31,651.05 L376.91,651.05 Z" fill="#1a1aff"/>
<path d="M383.45,645.87 L386.65,651.63 L380.25,651.63 Z" fill="#1a1aff"/>
<path d="M386.79,646.34 L389.99,652.1 L383.59,652.1 Z" fill="#1a1aff"/>
<path d="M390.13,646.66 L393.33,652.42 L386.93,652.42 Z" fill="#1a1aff"/>
<path d="M393.47,646.88 L396.67,652.64 L390.27,652.64 Z" fill="#1a1aff"/>
<path d="M396.81,647.08 L400.01,652.84 L393.61,652.84 Z" fill="#1a1aff"/>
<path d="M400.15,647.23 L403.35,652.99 L396.95,652.99 Z" fill="#1a1aff"/>
<path d="M403.49,647.34 L406.69,653.1 L400.29,653.1 Z" fill="#1a1aff"/>
<path d="M406.82,647.38 L410.02,653.14 L403.62,653.14 Z" fill="#1a1aff"/>
<path d="M410.16,647.38 L413.36,653.14 L406.96,653.14 Z" fill="#1a1aff"/>
<path d="M413.5,647.38 L416.7,653.14 L410.3,653.14 Z" fill="#1a1aff"/>
<path d="M416.84,647.38 L420.04,653.14 L413.64,653.14 Z" fill="#1a1aff"/>
<path d="M420.18,647.37 L423.38,653.13 L416.98,653.13 Z" fill="#1a1aff"/>
<path d="M423.52,647.37 L426.72,653.13 L420.32,653.13 Z" fill="#1a1aff"/>
<path d="M426.86,647.36 L430.06,653.12 L423.66,653.12 Z" fill="#1a1aff"/>
<path d="M430.2,647.35 L433.4,653.11 L427,653.11 Z" fill="#1a1aff"/>
<path d="M433.54,647.34 L436.74,653.1 L430.34,653.1 Z" fill="#1a1aff"/>
<path d="M436.88,647.32 L440.08,653.08 L433.68,653.08 Z" fill="#1a1aff"/>
<path d="M440.22,647.3 L443.42,653.06 L437.02,653.06 Z" fill="#1a1aff"/>
<path d="M443.56,647.28 L446.76,653.04 L440.36,653.04 Z" fill="#1a1aff"/>
<path d="M446.9,647.24 L450.1,653 L443.7,653 Z" fill="#1a1aff"/>
<polyline points="286.6,519.05 287.41,519.09 288.21,519.17 289.02,519.28 289.82,519.43 290.63,519.64 291.43,519.92 292.24,520.23 293.04,520.55 293.85,520.86 294.66,521.17 295.46,521.51 296.27,521.86 297.07,522.23 297.88,522.62 298.68,523.04 299.49,523.49 300.29,523.95 301.1,524.41 301.91,524.87 302.71,525.33 303.52,525.79 304.32,526.27 305.13,526.77 305.93,527.29 306.74,527.84 307.54,528.42 308.35,529.03 309.15,529.66 309.96,530.32 310.77,531.01 311.57,531.74 312.38,532.52 313.18,533.35 313.99,534.28 314.79,535.28 315.6,536.33 316.4,537.42 317.21,538.55 318.02,539.72 318.82,540.97 319.63,542.29 320.43,543.74 321.24,545.37 322.04,547.08 322.85,548.79 323.65,550.4 324.46,551.88 325.27,553.34 326.07,554.85 326.88,556.51 327.68,558.31 328.49,560.22 329.29,562.21 330.1,564.24 330.9,566.32 331.71,568.47 332.52,570.7 333.32,573.03 334.13,575.48 334.93,578.08 335.74,580.76 336.54,583.44 337.35,586.16 338.15,588.95 338.96,591.69 339.76,594.27 340.57,596.68 341.38,598.98 342.18,601.21 342.99,603.41 343.79,605.6 344.6,607.73 345.4,609.84 346.21,611.94 347.01,614.06 347.82,616.24 348.63,618.41 349.43,620.47 350.24,622.32 351.04,624.04 351.85,625.65 352.65,627.17 353.46,628.61 354.26,629.97 355.07,631.26 355.88,632.48 356.68,633.63 357.49,634.77 358.29,635.88 359.1,636.91 359.9,637.77 360.71,638.43 361.51,639.05 362.32,639.64 363.13,640.21 363.93,640.75 364.74,641.26 365.54,641.75 366.35,642.22 367.15,642.66 367.96,643.08 368.76,643.47 369.57,643.83 370.37,644.18 371.18,644.5 371.99,644.79 372.79,645.07 373.6,645.32 374.4,645.54 375.21,645.75 376.01,645.95 376.82,646.14 377.62,646.32 378.43,646.5 379.24,646.68 380.04,646.84 380.85,647 381.65,647.15 382.46,647.29 383.26,647.43 384.07,647.55 384.87,647.67 385.68,647.79 386.49,647.89 387.29,647.99 388.1,648.07 388.9,648.15 389.71,648.22 390.51,648.28 391.32,648.34 392.12,648.39 392.93,648.43 393.74,648.48 394.54,648.52 395.35,648.56 396.15,648.6 396.96,648.64 397.76,648.67 398.57,648.7 399.37,648.73 400.18,648.76 400.98,648.79 401.79,648.82 402.6,648.84 403.4,648.87 404.21,648.89 405.01,648.92 405.82,648.94 406.62,648.96 407.43,648.99 408.23,649.01 409.04,649.03 409.85,649.05 410.65,649.08 411.46,649.1 412.26,649.12 413.07,649.14 413.87,649.17 414.68,649.19 415.48,649.21 416.29,649.23 417.1,649.25 417.9,649.27 418.71,649.29 419.51,649.31 420.32,649.33 421.12,649.35 421.93,649.37 422.73,649.39 423.54,649.41 424.35,649.43 425.15,649.45 425.96,649.47 426.76,649.49 427.57,649.5 428.37,649.52 429.18,649.54 429.98,649.55 430.79,649.57 431.59,649.58 432.4,649.6 433.21,649.61 434.01,649.63 434.82,649.64 435.62,649.65 436.43,649.66 437.23,649.68 438.04,649.69 438.84,649.7 439.65,649.71 440.46,649.72 441.26,649.73 442.07,649.73 442.87,649.74 443.68,649.75 444.48,649.75 445.29,649.76 446.09,649.76 446.9,649.77" fill="none" stroke="#ff1a1a" stroke-width="1" stroke-linejoin="round"/>
<circle cx="286.6" cy="519.05" r="2.7" fill="url(#rb)"/>
<circle cx="289.94" cy="519.45" r="2.7" fill="url(#rb)"/>
<circle cx="293.28" cy="520.64" r="2.7" fill="url(#rb)"/>
<circle cx="296.62" cy="522.02" r="2.7" fill="url(#rb)"/>
<circle cx="299.96" cy="523.75" r="2.7" fill="url(#rb)"/>
<circle cx="303.3" cy="525.67" r="2.7" fill="url(#rb)"/>
<circle cx="306.64" cy="527.77" r="2.7" fill="url(#rb)"/>
<circle cx="309.98" cy="530.34" r="2.7" fill="url(#rb)"/>
<circle cx="313.32" cy="533.5" r="2.7" fill="url(#rb)"/>
<circle cx="316.66" cy="537.77" r="2.7" fill="url(#rb)"/>
<circle cx="320" cy="542.93" r="2.7" fill="url(#rb)"/>
<circle cx="323.34" cy="549.78" r="2.7" fill="url(#rb)"/>
<circle cx="326.67" cy="556.08" r="2.7" fill="url(#rb)"/>
<circle cx="330.01" cy="564.03" r="2.7" fill="url(#rb)"/>
<circle cx="333.35" cy="573.12" r="2.7" fill="url(#rb)"/>
<circle cx="336.69" cy="583.94" r="2.7" fill="url(#rb)"/>
<circle cx="340.03" cy="595.09" r="2.7" fill="url(#rb)"/>
<circle cx="343.37" cy="604.46" r="2.7" fill="url(#rb)"/>
<circle cx="346.71" cy="613.26" r="2.7" fill="url(#rb)"/>
<circle cx="350.05" cy="621.91" r="2.7" fill="url(#rb)"/>
<circle cx="353.39" cy="628.49" r="2.7" fill="url(#rb)"/>
<circle cx="356.73" cy="633.7" r="2.7" fill="url(#rb)"/>
<circle cx="360.07" cy="637.92" r="2.7" fill="url(#rb)"/>
<circle cx="363.41" cy="640.4" r="2.7" fill="url(#rb)"/>
<circle cx="366.75" cy="642.44" r="2.7" fill="url(#rb)"/>
<circle cx="370.09" cy="644.06" r="2.7" fill="url(#rb)"/>
<circle cx="373.43" cy="645.27" r="2.7" fill="url(#rb)"/>
<circle cx="376.77" cy="646.13" r="2.7" fill="url(#rb)"/>
<circle cx="380.11" cy="646.85" r="2.7" fill="url(#rb)"/>
<circle cx="383.45" cy="647.46" r="2.7" fill="url(#rb)"/>
<circle cx="386.79" cy="647.93" r="2.7" fill="url(#rb)"/>
<circle cx="390.13" cy="648.25" r="2.7" fill="url(#rb)"/>
<circle cx="393.47" cy="648.46" r="2.7" fill="url(#rb)"/>
<circle cx="396.81" cy="648.63" r="2.7" fill="url(#rb)"/>
<circle cx="400.15" cy="648.76" r="2.7" fill="url(#rb)"/>
<circle cx="403.49" cy="648.87" r="2.7" fill="url(#rb)"/>
<circle cx="406.82" cy="648.97" r="2.7" fill="url(#rb)"/>
<circle cx="410.16" cy="649.06" r="2.7" fill="url(#rb)"/>
<circle cx="413.5" cy="649.16" r="2.7" fill="url(#rb)"/>
<circle cx="416.84" cy="649.25" r="2.7" fill="url(#rb)"/>
<circle cx="420.18" cy="649.33" r="2.7" fill="url(#rb)"/>
<circle cx="423.52" cy="649.41" r="2.7" fill="url(#rb)"/>
<circle cx="426.86" cy="649.49" r="2.7" fill="url(#rb)"/>
<circle cx="430.2" cy="649.56" r="2.7" fill="url(#rb)"/>
<circle cx="433.54" cy="649.62" r="2.7" fill="url(#rb)"/>
<circle cx="436.88" cy="649.67" r="2.7" fill="url(#rb)"/>
<circle cx="440.22" cy="649.71" r="2.7" fill="url(#rb)"/>
<circle cx="443.56" cy="649.75" r="2.7" fill="url(#rb)"/>
<circle cx="446.9" cy="649.77" r="2.7" fill="url(#rb)"/>
<polyline points="286.6,519.05 287.41,521.95 288.21,524.92 289.02,527.95 289.82,531.05 290.63,534.22 291.43,537.47 292.24,540.8 293.04,544.17 293.85,547.73 294.66,551.47 295.46,555.04 296.27,558.12 297.07,560.61 297.88,562.78 298.68,564.81 299.49,566.88 300.29,569.19 301.1,571.83 301.91,574.57 302.71,577.11 303.52,579.29 304.32,581.3 305.13,583.17 305.93,584.97 306.74,586.73 307.54,588.4 308.35,590.02 309.15,591.61 309.96,593.21 310.77,594.82 311.57,596.42 312.38,598.02 313.18,599.61 313.99,601.24 314.79,602.94 315.6,604.58 316.4,606.05 317.21,607.28 318.02,608.36 318.82,609.37 319.63,610.37 320.43,611.43 321.24,612.53 322.04,613.63 322.85,614.72 323.65,615.8 324.46,616.85 325.27,617.88 326.07,618.9 326.88,619.9 327.68,620.88 328.49,621.86 329.29,622.82 330.1,623.76 330.9,624.65 331.71,625.51 332.52,626.34 333.32,627.14 334.13,627.93 334.93,628.7 335.74,629.47 336.54,630.24 337.35,630.97 338.15,631.66 338.96,632.26 339.76,632.81 340.57,633.32 341.38,633.8 342.18,634.27 342.99,634.74 343.79,635.21 344.6,635.67 345.4,636.11 346.21,636.56 347.01,637.01 347.82,637.48 348.63,637.94 349.43,638.39 350.24,638.82 351.04,639.21 351.85,639.58 352.65,639.94 353.46,640.28 354.26,640.6 355.07,640.89 355.88,641.16 356.68,641.41 357.49,641.65 358.29,641.88 359.1,642.1 359.9,642.34 360.71,642.59 361.51,642.83 362.32,643.06 363.13,643.26 363.93,643.41 364.74,643.55 365.54,643.69 366.35,643.82 367.15,643.96 367.96,644.09 368.76,644.21 369.57,644.34 370.37,644.46 371.18,644.58 371.99,644.69 372.79,644.81 373.6,644.92 374.4,645.03 375.21,645.13 376.01,645.24 376.82,645.34 377.62,645.44 378.43,645.54 379.24,645.64 380.04,645.73 380.85,645.82 381.65,645.91 382.46,646 383.26,646.09 384.07,646.17 384.87,646.25 385.68,646.33 386.49,646.41 387.29,646.49 388.1,646.56 388.9,646.64 389.71,646.71 390.51,646.78 391.32,646.85 392.12,646.92 392.93,646.98 393.74,647.05 394.54,647.11 395.35,647.17 396.15,647.23 396.96,647.29 397.76,647.35 398.57,647.41 399.37,647.47 400.18,647.52 400.98,647.58 401.79,647.63 402.6,647.68 403.4,647.73 404.21,647.78 405.01,647.83 405.82,647.88 406.62,647.93 407.43,647.98 408.23,648.03 409.04,648.08 409.85,648.13 410.65,648.18 411.46,648.23 412.26,648.28 413.07,648.32 413.87,648.37 414.68,648.42 415.48,648.46 416.29,648.51 417.1,648.55 417.9,648.6 418.71,648.64 419.51,648.69 420.32,648.73 421.12,648.77 421.93,648.81 422.73,648.85 423.54,648.89 424.35,648.93 425.15,648.97 425.96,649.01 426.76,649.05 427.57,649.08 428.37,649.12 429.18,649.15 429.98,649.19 430.79,649.22 431.59,649.25 432.4,649.28 433.21,649.31 434.01,649.34 434.82,649.37 435.62,649.39 436.43,649.42 437.23,649.44 438.04,649.47 438.84,649.49 439.65,649.51 440.46,649.53 441.26,649.55 442.07,649.56 442.87,649.58 443.68,649.59 444.48,649.61 445.29,649.62 446.09,649.63 446.9,649.63" fill="none" stroke="#000" stroke-width="1" stroke-linejoin="round"/>
<rect x="284.2" y="516.65" width="4.8" height="4.8" fill="#000"/>
<rect x="287.54" y="529.11" width="4.8" height="4.8" fill="#000"/>
<rect x="290.88" y="542.77" width="4.8" height="4.8" fill="#000"/>
<rect x="294.22" y="556.86" width="4.8" height="4.8" fill="#000"/>
<rect x="297.56" y="565.79" width="4.8" height="4.8" fill="#000"/>
<rect x="300.9" y="576.32" width="4.8" height="4.8" fill="#000"/>
<rect x="304.24" y="584.11" width="4.8" height="4.8" fill="#000"/>
<rect x="307.58" y="590.84" width="4.8" height="4.8" fill="#000"/>
<rect x="310.92" y="597.48" width="4.8" height="4.8" fill="#000"/>
<rect x="314.26" y="604.06" width="4.8" height="4.8" fill="#000"/>
<rect x="317.6" y="608.45" width="4.8" height="4.8" fill="#000"/>
<rect x="320.94" y="612.98" width="4.8" height="4.8" fill="#000"/>
<rect x="324.27" y="617.25" width="4.8" height="4.8" fill="#000"/>
<rect x="327.61" y="621.26" width="4.8" height="4.8" fill="#000"/>
<rect x="330.95" y="624.78" width="4.8" height="4.8" fill="#000"/>
<rect x="334.29" y="627.98" width="4.8" height="4.8" fill="#000"/>
<rect x="337.63" y="630.58" width="4.8" height="4.8" fill="#000"/>
<rect x="340.97" y="632.57" width="4.8" height="4.8" fill="#000"/>
<rect x="344.31" y="634.44" width="4.8" height="4.8" fill="#000"/>
<rect x="347.65" y="636.32" width="4.8" height="4.8" fill="#000"/>
<rect x="350.99" y="637.85" width="4.8" height="4.8" fill="#000"/>
<rect x="354.33" y="639.02" width="4.8" height="4.8" fill="#000"/>
<rect x="357.67" y="639.99" width="4.8" height="4.8" fill="#000"/>
<rect x="361.01" y="640.92" width="4.8" height="4.8" fill="#000"/>
<rect x="364.35" y="641.49" width="4.8" height="4.8" fill="#000"/>
<rect x="367.69" y="642.01" width="4.8" height="4.8" fill="#000"/>
<rect x="371.03" y="642.49" width="4.8" height="4.8" fill="#000"/>
<rect x="374.37" y="642.93" width="4.8" height="4.8" fill="#000"/>
<rect x="377.71" y="643.34" width="4.8" height="4.8" fill="#000"/>
<rect x="381.05" y="643.7" width="4.8" height="4.8" fill="#000"/>
<rect x="384.39" y="644.04" width="4.8" height="4.8" fill="#000"/>
<rect x="387.73" y="644.35" width="4.8" height="4.8" fill="#000"/>
<rect x="391.07" y="644.63" width="4.8" height="4.8" fill="#000"/>
<rect x="394.41" y="644.88" width="4.8" height="4.8" fill="#000"/>
<rect x="397.75" y="645.12" width="4.8" height="4.8" fill="#000"/>
<rect x="401.09" y="645.34" width="4.8" height="4.8" fill="#000"/>
<rect x="404.42" y="645.55" width="4.8" height="4.8" fill="#000"/>
<rect x="407.76" y="645.75" width="4.8" height="4.8" fill="#000"/>
<rect x="411.1" y="645.95" width="4.8" height="4.8" fill="#000"/>
<rect x="414.44" y="646.14" width="4.8" height="4.8" fill="#000"/>
<rect x="417.78" y="646.32" width="4.8" height="4.8" fill="#000"/>
<rect x="421.12" y="646.49" width="4.8" height="4.8" fill="#000"/>
<rect x="424.46" y="646.65" width="4.8" height="4.8" fill="#000"/>
<rect x="427.8" y="646.8" width="4.8" height="4.8" fill="#000"/>
<rect x="431.14" y="646.92" width="4.8" height="4.8" fill="#000"/>
<rect x="434.48" y="647.03" width="4.8" height="4.8" fill="#000"/>
<rect x="437.82" y="647.12" width="4.8" height="4.8" fill="#000"/>
<rect x="441.16" y="647.19" width="4.8" height="4.8" fill="#000"/>
<rect x="444.5" y="647.24" width="4.8" height="4.8" fill="#000"/>
<rect x="286.6" y="492.4" width="160.3" height="159.9" fill="none" stroke="#333" stroke-width="1.2"/>
<line x1="286.6" y1="652.3" x2="286.6" y2="655.3" stroke="#333" stroke-width="1.2"/>
<line x1="298.66" y1="652.3" x2="298.66" y2="653.8" stroke="#333" stroke-width="1.2"/>
<line x1="305.72" y1="652.3" x2="305.72" y2="653.8" stroke="#333" stroke-width="1.2"/>
<line x1="310.73" y1="652.3" x2="310.73" y2="653.8" stroke="#333" stroke-width="1.2"/>
<line x1="314.61" y1="652.3" x2="314.61" y2="653.8" stroke="#333" stroke-width="1.2"/>
<line x1="317.78" y1="652.3" x2="317.78" y2="653.8" stroke="#333" stroke-width="1.2"/>
<line x1="320.47" y1="652.3" x2="320.47" y2="653.8" stroke="#333" stroke-width="1.2"/>
<line x1="322.79" y1="652.3" x2="322.79" y2="653.8" stroke="#333" stroke-width="1.2"/>
<line x1="324.84" y1="652.3" x2="324.84" y2="653.8" stroke="#333" stroke-width="1.2"/>
<line x1="326.68" y1="652.3" x2="326.68" y2="655.3" stroke="#333" stroke-width="1.2"/>
<line x1="338.74" y1="652.3" x2="338.74" y2="653.8" stroke="#333" stroke-width="1.2"/>
<line x1="345.8" y1="652.3" x2="345.8" y2="653.8" stroke="#333" stroke-width="1.2"/>
<line x1="350.8" y1="652.3" x2="350.8" y2="653.8" stroke="#333" stroke-width="1.2"/>
<line x1="354.69" y1="652.3" x2="354.69" y2="653.8" stroke="#333" stroke-width="1.2"/>
<line x1="357.86" y1="652.3" x2="357.86" y2="653.8" stroke="#333" stroke-width="1.2"/>
<line x1="360.54" y1="652.3" x2="360.54" y2="653.8" stroke="#333" stroke-width="1.2"/>
<line x1="362.87" y1="652.3" x2="362.87" y2="653.8" stroke="#333" stroke-width="1.2"/>
<line x1="364.92" y1="652.3" x2="364.92" y2="653.8" stroke="#333" stroke-width="1.2"/>
<line x1="366.75" y1="652.3" x2="366.75" y2="655.3" stroke="#333" stroke-width="1.2"/>
<line x1="378.81" y1="652.3" x2="378.81" y2="653.8" stroke="#333" stroke-width="1.2"/>
<line x1="385.87" y1="652.3" x2="385.87" y2="653.8" stroke="#333" stroke-width="1.2"/>
<line x1="390.88" y1="652.3" x2="390.88" y2="653.8" stroke="#333" stroke-width="1.2"/>
<line x1="394.76" y1="652.3" x2="394.76" y2="653.8" stroke="#333" stroke-width="1.2"/>
<line x1="397.93" y1="652.3" x2="397.93" y2="653.8" stroke="#333" stroke-width="1.2"/>
<line x1="400.62" y1="652.3" x2="400.62" y2="653.8" stroke="#333" stroke-width="1.2"/>
<line x1="402.94" y1="652.3" x2="402.94" y2="653.8" stroke="#333" stroke-width="1.2"/>
<line x1="404.99" y1="652.3" x2="404.99" y2="653.8" stroke="#333" stroke-width="1.2"/>
<line x1="406.82" y1="652.3" x2="406.82" y2="655.3" stroke="#333" stroke-width="1.2"/>
<line x1="418.89" y1="652.3" x2="418.89" y2="653.8" stroke="#333" stroke-width="1.2"/>
<line x1="425.95" y1="652.3" x2="425.95" y2="653.8" stroke="#333" stroke-width="1.2"/>
<line x1="430.95" y1="652.3" x2="430.95" y2="653.8" stroke="#333" stroke-width="1.2"/>
<line x1="434.84" y1="652.3" x2="434.84" y2="653.8" stroke="#333" stroke-width="1.2"/>
<line x1="438.01" y1="652.3" x2="438.01" y2="653.8" stroke="#333" stroke-width="1.2"/>
<line x1="440.69" y1="652.3" x2="440.69" y2="653.8" stroke="#333" stroke-width="1.2"/>
<line x1="443.02" y1="652.3" x2="443.02" y2="653.8" stroke="#333" stroke-width="1.2"/>
<line x1="445.07" y1="652.3" x2="445.07" y2="653.8" stroke="#333" stroke-width="1.2"/>
<line x1="446.9" y1="652.3" x2="446.9" y2="655.3" stroke="#333" stroke-width="1.2"/>
<line x1="283.6" y1="652.3" x2="286.6" y2="652.3" stroke="#333" stroke-width="1.2"/>
<line x1="285.1" y1="618.99" x2="286.6" y2="618.99" stroke="#333" stroke-width="1.2"/>
<line x1="283.6" y1="585.67" x2="286.6" y2="585.67" stroke="#333" stroke-width="1.2"/>
<line x1="285.1" y1="552.36" x2="286.6" y2="552.36" stroke="#333" stroke-width="1.2"/>
<line x1="283.6" y1="519.05" x2="286.6" y2="519.05" stroke="#333" stroke-width="1.2"/>
<text x="286.6" y="672" font-size="16" text-anchor="middle" fill="#111">0.01</text>
<text x="326.68" y="672" font-size="16" text-anchor="middle" fill="#111">0.1</text>
<text x="366.75" y="672" font-size="16" text-anchor="middle" fill="#111">1</text>
<text x="406.82" y="672" font-size="16" text-anchor="middle" fill="#111">10</text>
<text x="446.9" y="672" font-size="16" text-anchor="middle" fill="#111">100</text>
<text x="281.6" y="658" font-size="16" text-anchor="end" fill="#111">0.0</text>
<text x="281.6" y="591.38" font-size="16" text-anchor="end" fill="#111">0.5</text>
<text x="281.6" y="524.75" font-size="16" text-anchor="end" fill="#111">1.0</text>
<text x="366.75" y="690.4" font-size="16" text-anchor="middle" fill="#111">Frequency (Hz)</text>
<text x="257.5" y="572" font-size="16.3" text-anchor="middle" fill="#111" transform="rotate(-90 257.5 572)">Normalized <tspan font-style="italic">C</tspan>'</text>
<text x="288.8" y="507.1" font-size="16" text-anchor="start" fill="#111">(f)</text>
<line x1="328.9" y1="565.7" x2="313" y2="573" stroke="#ff40ff" stroke-width="1.3" stroke-dasharray="3.5,2.8"/>
<path d="M303.4,577.4 L312.35,569.33 L309.88,574.43 L315.35,575.88 Z" fill="#ff40ff"/>
<line x1="515.1" y1="556.59" x2="665.7" y2="510.61" stroke="#000" stroke-width="1.1"/>
<line x1="515.1" y1="624.48" x2="665.7" y2="598.83" stroke="#1a1aff" stroke-width="1.1"/>
<line x1="515.1" y1="641.36" x2="665.7" y2="637.17" stroke="#ff1a1a" stroke-width="1.1"/>
<rect x="517.64" y="549.8" width="7.6" height="7.6" fill="#000"/>
<rect x="541.3" y="543.2" width="7.6" height="7.6" fill="#000"/>
<rect x="567.1" y="535.6" width="7.6" height="7.6" fill="#000"/>
<rect x="595.22" y="529.7" width="7.6" height="7.6" fill="#000"/>
<rect x="626.03" y="519.2" width="7.6" height="7.6" fill="#000"/>
<rect x="661.2" y="504.7" width="7.6" height="7.6" fill="#000"/>
<path d="M521.44,616.56 L526.94,626.46 L515.94,626.46 Z" fill="#1a1aff"/>
<path d="M545.1,613.36 L550.6,623.26 L539.6,623.26 Z" fill="#1a1aff"/>
<path d="M570.9,609.36 L576.4,619.26 L565.4,619.26 Z" fill="#1a1aff"/>
<path d="M599.02,605.76 L604.52,615.66 L593.52,615.66 Z" fill="#1a1aff"/>
<path d="M629.83,599.16 L635.33,609.06 L624.33,609.06 Z" fill="#1a1aff"/>
<path d="M665,591.96 L670.5,601.86 L659.5,601.86 Z" fill="#1a1aff"/>
<circle cx="521.44" cy="641.3" r="4.5" fill="url(#rb)"/>
<circle cx="545.1" cy="640.3" r="4.5" fill="url(#rb)"/>
<circle cx="570.9" cy="640" r="4.5" fill="url(#rb)"/>
<circle cx="599.02" cy="639" r="4.5" fill="url(#rb)"/>
<circle cx="629.83" cy="638" r="4.5" fill="url(#rb)"/>
<circle cx="665" cy="637.3" r="4.5" fill="url(#rb)"/>
<line x1="556.3" y1="637.3" x2="556.3" y2="558" stroke="#ff40ff" stroke-width="1.3" stroke-dasharray="4,3"/>
<path d="M556.3,548.6 L559.5,560.6 L556.3,555.8 L553.1,560.6 Z" fill="#ff40ff"/>
<rect x="515.1" y="490.5" width="160.1" height="160.1" fill="none" stroke="#333" stroke-width="1.2"/>
<path d="M506.7,570.4 L523.3,568.2 L523.3,571.3 L506.7,573.5 Z" fill="#fff"/>
<line x1="506.7" y1="570.4" x2="523.3" y2="568.2" stroke="#222" stroke-width="1.2"/>
<line x1="506.7" y1="573.5" x2="523.3" y2="571.3" stroke="#222" stroke-width="1.2"/>
<path d="M666.8,570.4 L683.4,568.2 L683.4,571.3 L666.8,573.5 Z" fill="#fff"/>
<line x1="666.8" y1="570.4" x2="683.4" y2="568.2" stroke="#222" stroke-width="1.2"/>
<line x1="666.8" y1="573.5" x2="683.4" y2="571.3" stroke="#222" stroke-width="1.2"/>
<line x1="524.5" y1="650.6" x2="524.5" y2="653.6" stroke="#333" stroke-width="1.2"/>
<text x="524.5" y="669.3" font-size="16" text-anchor="middle" fill="#111">2.5</text>
<line x1="570.9" y1="650.6" x2="570.9" y2="653.6" stroke="#333" stroke-width="1.2"/>
<text x="570.9" y="669.3" font-size="16" text-anchor="middle" fill="#111">3.0</text>
<line x1="617.3" y1="650.6" x2="617.3" y2="653.6" stroke="#333" stroke-width="1.2"/>
<text x="617.3" y="669.3" font-size="16" text-anchor="middle" fill="#111">3.5</text>
<line x1="663.7" y1="650.6" x2="663.7" y2="653.6" stroke="#333" stroke-width="1.2"/>
<text x="663.7" y="669.3" font-size="16" text-anchor="middle" fill="#111">4.0</text>
<line x1="547.7" y1="650.6" x2="547.7" y2="652.1" stroke="#333" stroke-width="1.2"/>
<line x1="594.1" y1="650.6" x2="594.1" y2="652.1" stroke="#333" stroke-width="1.2"/>
<line x1="640.5" y1="650.6" x2="640.5" y2="652.1" stroke="#333" stroke-width="1.2"/>
<line x1="512.1" y1="650.6" x2="515.1" y2="650.6" stroke="#333" stroke-width="1.2"/>
<text x="509.5" y="656.3" font-size="16" text-anchor="end" fill="#111">0</text>
<line x1="512.1" y1="619.24" x2="515.1" y2="619.24" stroke="#333" stroke-width="1.2"/>
<text x="509.5" y="624.94" font-size="16" text-anchor="end" fill="#111">4</text>
<line x1="512.1" y1="587.88" x2="515.1" y2="587.88" stroke="#333" stroke-width="1.2"/>
<text x="509.5" y="593.58" font-size="16" text-anchor="end" fill="#111">8</text>
<line x1="513.6" y1="634.92" x2="515.1" y2="634.92" stroke="#333" stroke-width="1.2"/>
<line x1="513.6" y1="603.56" x2="515.1" y2="603.56" stroke="#333" stroke-width="1.2"/>
<line x1="512.1" y1="546.6" x2="515.1" y2="546.6" stroke="#333" stroke-width="1.2"/>
<text x="509.5" y="552.3" font-size="16" text-anchor="end" fill="#111">900</text>
<line x1="512.1" y1="513.1" x2="515.1" y2="513.1" stroke="#333" stroke-width="1.2"/>
<text x="509.5" y="518.8" font-size="16" text-anchor="end" fill="#111">1200</text>
<line x1="513.6" y1="563.35" x2="515.1" y2="563.35" stroke="#333" stroke-width="1.2"/>
<line x1="513.6" y1="529.85" x2="515.1" y2="529.85" stroke="#333" stroke-width="1.2"/>
<line x1="513.6" y1="496.35" x2="515.1" y2="496.35" stroke="#333" stroke-width="1.2"/>
<text x="595.3" y="688.6" font-size="16" text-anchor="middle" fill="#111">ω<tspan font-size="11.5" dy="-6">−1/2</tspan><tspan dy="6"> (Hz</tspan><tspan font-size="11.5" dy="-6">−1/2</tspan><tspan dy="6">)</tspan></text>
<text x="473" y="570.5" font-size="16.3" text-anchor="middle" fill="#111" transform="rotate(-90 473 570.5)">Z' (Ω)</text>
<text x="517.5" y="507.5" font-size="16" text-anchor="start" fill="#111">(g)</text>
<text x="518" y="525.5" font-size="12.8" text-anchor="start" fill="#111">σ (Ω s<tspan font-size="8.5" dy="-5">−0.5</tspan><tspan dy="5">)</tspan></text>
<text x="612.8" y="514.2" font-size="12.5" text-anchor="start" fill="#111">252.1</text>
<text x="620" y="595.8" font-size="12.5" text-anchor="start" fill="#1a1aff">1.89</text>
<text x="616.7" y="630.6" font-size="12.5" text-anchor="start" fill="#ff1a1a">0.30</text>
<line x1="89.79" y1="744.59" x2="99.81" y2="744.01" stroke="#ff1a1a" stroke-width="1.3"/>
<line x1="114.2" y1="743.45" x2="148" y2="742.75" stroke="#ff1a1a" stroke-width="1.3"/>
<line x1="162.4" y1="742.75" x2="196.3" y2="743.45" stroke="#ff1a1a" stroke-width="1.3"/>
<line x1="210.69" y1="743.32" x2="245.11" y2="741.98" stroke="#ff1a1a" stroke-width="1.3"/>
<line x1="259.5" y1="741.77" x2="293.8" y2="742.13" stroke="#ff1a1a" stroke-width="1.3"/>
<line x1="308.2" y1="742.35" x2="390.7" y2="744.05" stroke="#ff1a1a" stroke-width="1.3"/>
<line x1="405.1" y1="744.13" x2="487.4" y2="743.27" stroke="#ff1a1a" stroke-width="1.3"/>
<line x1="501.8" y1="743.43" x2="584.6" y2="746.07" stroke="#ff1a1a" stroke-width="1.3"/>
<line x1="599" y1="746.25" x2="657.1" y2="745.85" stroke="#ff1a1a" stroke-width="1.3"/>
<circle cx="70.2" cy="741.6" r="5.6" fill="url(#rb)"/>
<circle cx="82.6" cy="745" r="5.6" fill="url(#rb)"/>
<circle cx="107" cy="743.6" r="5.6" fill="url(#rb)"/>
<circle cx="155.2" cy="742.6" r="5.6" fill="url(#rb)"/>
<circle cx="203.5" cy="743.6" r="5.6" fill="url(#rb)"/>
<circle cx="252.3" cy="741.7" r="5.6" fill="url(#rb)"/>
<circle cx="301" cy="742.2" r="5.6" fill="url(#rb)"/>
<circle cx="397.9" cy="744.2" r="5.6" fill="url(#rb)"/>
<circle cx="494.6" cy="743.2" r="5.6" fill="url(#rb)"/>
<circle cx="591.8" cy="746.3" r="5.6" fill="url(#rb)"/>
<circle cx="664.3" cy="745.8" r="5.6" fill="url(#rb)"/>
<line x1="83.85" y1="743.14" x2="90.55" y2="744.96" stroke="#1a1aff" stroke-width="1.3"/>
<line x1="103.91" y1="749.1" x2="130.29" y2="758.3" stroke="#1a1aff" stroke-width="1.3"/>
<line x1="143.55" y1="762.8" x2="169.25" y2="771.3" stroke="#1a1aff" stroke-width="1.3"/>
<line x1="182.64" y1="775.4" x2="208.26" y2="782.6" stroke="#1a1aff" stroke-width="1.3"/>
<line x1="221.81" y1="786.1" x2="247.29" y2="792.1" stroke="#1a1aff" stroke-width="1.3"/>
<line x1="260.97" y1="795.05" x2="286.83" y2="800.15" stroke="#1a1aff" stroke-width="1.3"/>
<line x1="300.59" y1="802.74" x2="346.41" y2="810.96" stroke="#1a1aff" stroke-width="1.3"/>
<line x1="360.21" y1="813.33" x2="405.09" y2="820.67" stroke="#1a1aff" stroke-width="1.3"/>
<line x1="418.92" y1="822.86" x2="444.88" y2="826.84" stroke="#1a1aff" stroke-width="1.3"/>
<line x1="458.74" y1="828.78" x2="484.16" y2="832.02" stroke="#1a1aff" stroke-width="1.3"/>
<line x1="498.02" y1="833.97" x2="543.08" y2="840.93" stroke="#1a1aff" stroke-width="1.3"/>
<path d="M77.1,735.25 L82.7,745.33 L71.5,745.33 Z" fill="#1a1aff"/>
<path d="M97.3,740.75 L102.9,750.83 L91.7,750.83 Z" fill="#1a1aff"/>
<path d="M136.9,754.55 L142.5,764.63 L131.3,764.63 Z" fill="#1a1aff"/>
<path d="M175.9,767.45 L181.5,777.53 L170.3,777.53 Z" fill="#1a1aff"/>
<path d="M215,778.45 L220.6,788.53 L209.4,788.53 Z" fill="#1a1aff"/>
<path d="M254.1,787.65 L259.7,797.73 L248.5,797.73 Z" fill="#1a1aff"/>
<path d="M293.7,795.45 L299.3,805.53 L288.1,805.53 Z" fill="#1a1aff"/>
<path d="M353.3,806.15 L358.9,816.23 L347.7,816.23 Z" fill="#1a1aff"/>
<path d="M412,815.75 L417.6,825.83 L406.4,825.83 Z" fill="#1a1aff"/>
<path d="M451.8,821.85 L457.4,831.93 L446.2,831.93 Z" fill="#1a1aff"/>
<path d="M491.1,826.85 L496.7,836.93 L485.5,836.93 Z" fill="#1a1aff"/>
<path d="M550,835.95 L555.6,846.03 L544.4,846.03 Z" fill="#1a1aff"/>
<line x1="64.93" y1="762.17" x2="68.07" y2="773.23" stroke="#000" stroke-width="1.3"/>
<line x1="73.46" y1="783.68" x2="77.04" y2="788.12" stroke="#000" stroke-width="1.3"/>
<line x1="85.09" y1="796.99" x2="99.01" y2="810.61" stroke="#000" stroke-width="1.3"/>
<line x1="108.24" y1="818.2" x2="120.46" y2="826.6" stroke="#000" stroke-width="1.3"/>
<line x1="131.23" y1="831.42" x2="142.07" y2="834.08" stroke="#000" stroke-width="1.3"/>
<line x1="153.64" y1="837.26" x2="164.66" y2="840.64" stroke="#000" stroke-width="1.3"/>
<line x1="176.35" y1="843.15" x2="186.55" y2="844.45" stroke="#000" stroke-width="1.3"/>
<line x1="198.47" y1="845.81" x2="209.03" y2="846.89" stroke="#000" stroke-width="1.3"/>
<line x1="220.92" y1="848.47" x2="231.68" y2="850.23" stroke="#000" stroke-width="1.3"/>
<line x1="243.57" y1="851.76" x2="275.73" y2="854.74" stroke="#000" stroke-width="1.3"/>
<line x1="287.67" y1="855.88" x2="332.73" y2="860.22" stroke="#000" stroke-width="1.3"/>
<rect x="59.45" y="752.55" width="7.7" height="7.7" fill="#000"/>
<rect x="65.85" y="775.15" width="7.7" height="7.7" fill="#000"/>
<rect x="76.95" y="788.95" width="7.7" height="7.7" fill="#000"/>
<rect x="99.45" y="810.95" width="7.7" height="7.7" fill="#000"/>
<rect x="121.55" y="826.15" width="7.7" height="7.7" fill="#000"/>
<rect x="144.05" y="831.65" width="7.7" height="7.7" fill="#000"/>
<rect x="166.55" y="838.55" width="7.7" height="7.7" fill="#000"/>
<rect x="188.65" y="841.35" width="7.7" height="7.7" fill="#000"/>
<rect x="211.15" y="843.65" width="7.7" height="7.7" fill="#000"/>
<rect x="233.75" y="847.35" width="7.7" height="7.7" fill="#000"/>
<rect x="277.85" y="851.45" width="7.7" height="7.7" fill="#000"/>
<rect x="334.85" y="856.95" width="7.7" height="7.7" fill="#000"/>
<line x1="338.5" y1="750" x2="338.5" y2="836" stroke="#ff50ff" stroke-width="1.3" stroke-dasharray="5,3"/>
<path d="M338.5,846 L335.2,834 L338.5,838.8 L341.8,834 Z" fill="#ff50ff"/>
<rect x="58.1" y="712.4" width="618.5" height="160.2" fill="none" stroke="#333" stroke-width="1.2"/>
<line x1="58.1" y1="872.6" x2="58.1" y2="875.6" stroke="#333" stroke-width="1.2"/>
<text x="58.1" y="890.5" font-size="16" text-anchor="middle" fill="#111">0.0</text>
<line x1="203.63" y1="872.6" x2="203.63" y2="875.6" stroke="#333" stroke-width="1.2"/>
<text x="203.63" y="890.5" font-size="16" text-anchor="middle" fill="#111">20.0</text>
<line x1="349.16" y1="872.6" x2="349.16" y2="875.6" stroke="#333" stroke-width="1.2"/>
<text x="349.16" y="890.5" font-size="16" text-anchor="middle" fill="#111">40.0</text>
<line x1="494.69" y1="872.6" x2="494.69" y2="875.6" stroke="#333" stroke-width="1.2"/>
<text x="494.69" y="890.5" font-size="16" text-anchor="middle" fill="#111">60.0</text>
<line x1="640.22" y1="872.6" x2="640.22" y2="875.6" stroke="#333" stroke-width="1.2"/>
<text x="640.22" y="890.5" font-size="16" text-anchor="middle" fill="#111">80.0</text>
<line x1="130.86" y1="872.6" x2="130.86" y2="874.1" stroke="#333" stroke-width="1.2"/>
<line x1="276.39" y1="872.6" x2="276.39" y2="874.1" stroke="#333" stroke-width="1.2"/>
<line x1="421.92" y1="872.6" x2="421.92" y2="874.1" stroke="#333" stroke-width="1.2"/>
<line x1="567.45" y1="872.6" x2="567.45" y2="874.1" stroke="#333" stroke-width="1.2"/>
<line x1="55.1" y1="872.6" x2="58.1" y2="872.6" stroke="#333" stroke-width="1.2"/>
<text x="51.7" y="878.3" font-size="16" text-anchor="end" fill="#111">0</text>
<line x1="55.1" y1="808.52" x2="58.1" y2="808.52" stroke="#333" stroke-width="1.2"/>
<text x="51.7" y="814.22" font-size="16" text-anchor="end" fill="#111">200</text>
<line x1="55.1" y1="744.44" x2="58.1" y2="744.44" stroke="#333" stroke-width="1.2"/>
<text x="51.7" y="750.14" font-size="16" text-anchor="end" fill="#111">400</text>
<line x1="56.6" y1="840.56" x2="58.1" y2="840.56" stroke="#333" stroke-width="1.2"/>
<line x1="56.6" y1="776.48" x2="58.1" y2="776.48" stroke="#333" stroke-width="1.2"/>
<text x="367" y="909.4" font-size="16" text-anchor="middle" fill="#111">Current density (A g<tspan font-size="11.5" dy="-6">−1</tspan><tspan dy="6">)</tspan></text>
<text x="16.3" y="792.3" font-size="16.3" text-anchor="middle" fill="#111" transform="rotate(-90 16.3 792.3)">Specific capacitance (F g<tspan font-size="11.7" dy="-6">−1</tspan><tspan dy="6">)</tspan></text>
<text x="61.2" y="727.2" font-size="16" text-anchor="start" fill="#111">(h)</text>
<text x="585.8" y="736.2" font-size="16" text-anchor="start" fill="#ff1a1a">PPH-6.0</text>
<text x="534.9" y="818.3" font-size="16" text-anchor="start" fill="#1a1aff">PPH-wlnf</text>
<text x="363.7" y="857.6" font-size="16" text-anchor="start" fill="#111">PANI film</text>
</svg>
</body></html>
